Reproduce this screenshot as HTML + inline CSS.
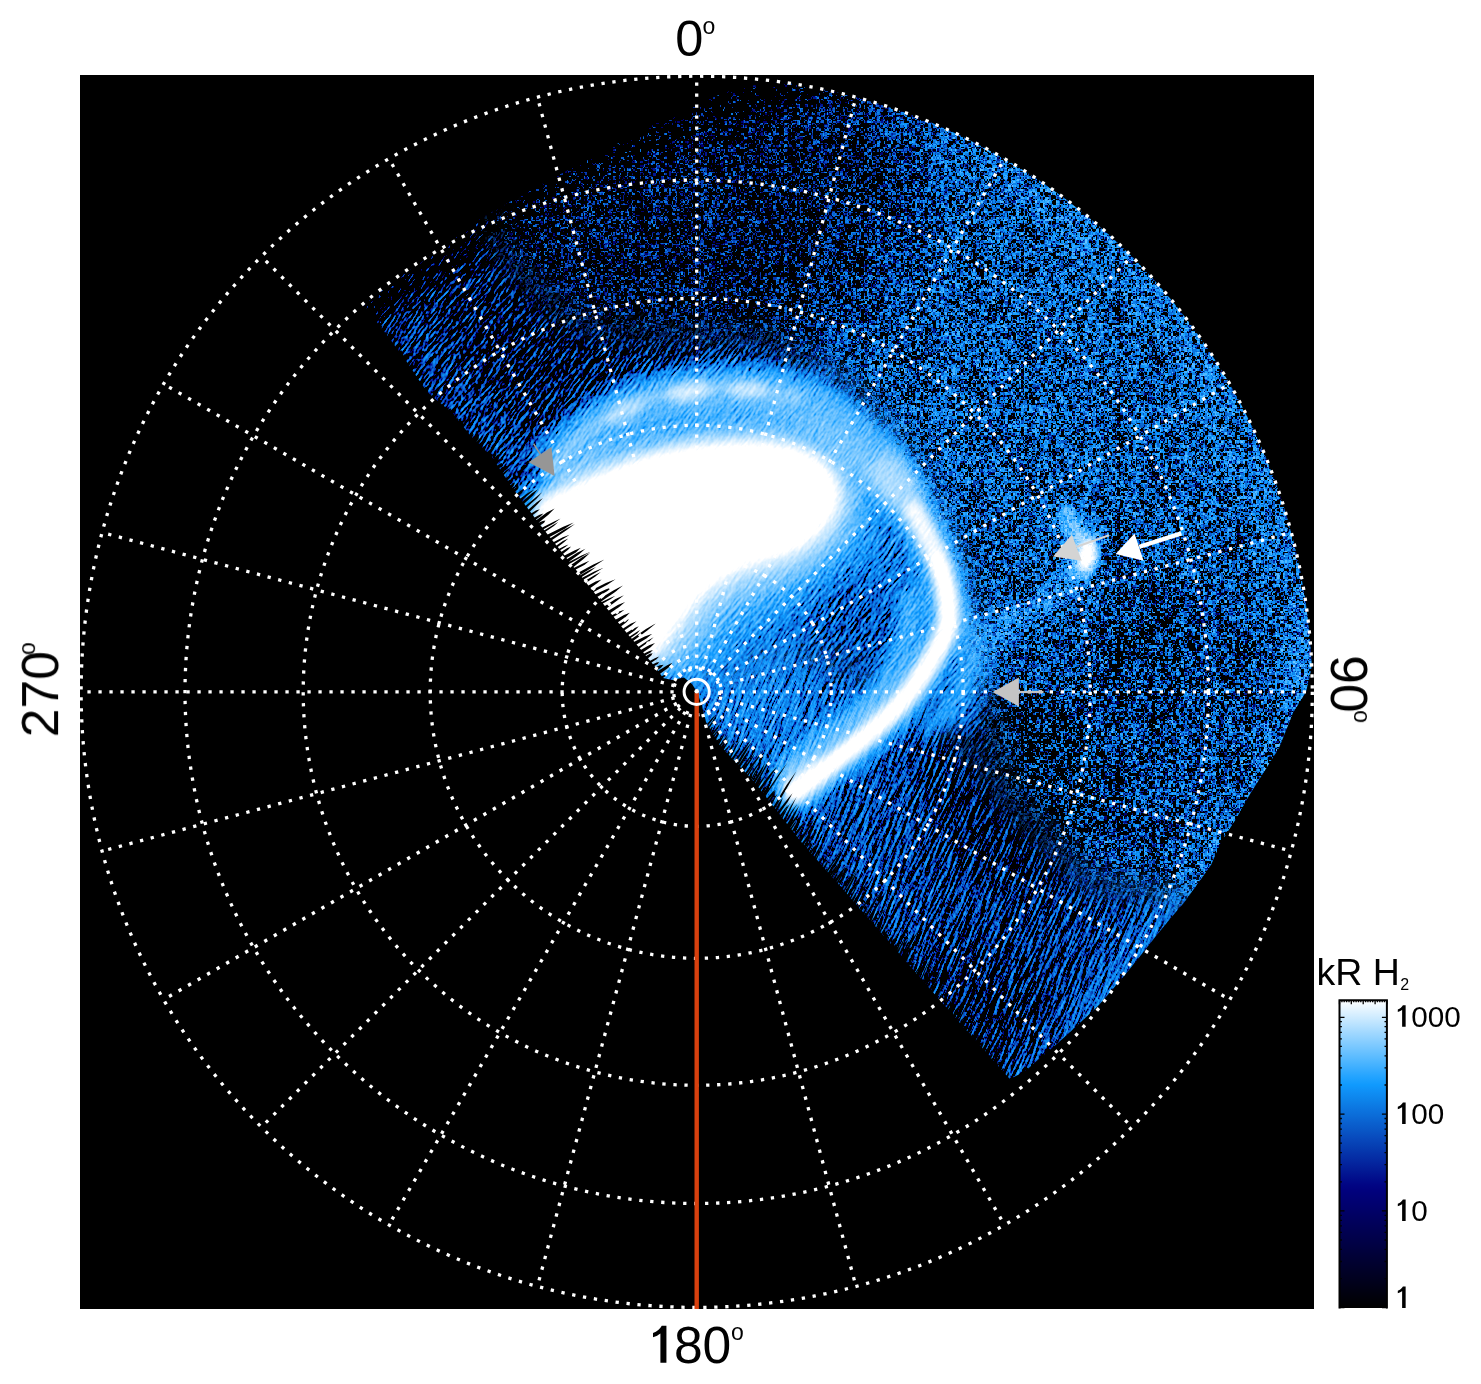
<!DOCTYPE html><html><head><meta charset="utf-8"><title>Polar projection</title>
<style>html,body{margin:0;padding:0;background:#fff}body{width:1481px;height:1384px;overflow:hidden;font-family:"Liberation Sans",sans-serif}svg{display:block}text{font-family:"Liberation Sans",sans-serif;fill:#000}</style></head><body>
<svg width="1481" height="1384" viewBox="0 0 1481 1384">
<defs>
<filter id="b4" filterUnits="userSpaceOnUse" x="200" y="0" width="1250" height="1250" color-interpolation-filters="sRGB"><feGaussianBlur stdDeviation="4"/></filter>
<filter id="b8" filterUnits="userSpaceOnUse" x="200" y="0" width="1250" height="1250" color-interpolation-filters="sRGB"><feGaussianBlur stdDeviation="8"/></filter>
<filter id="b14" filterUnits="userSpaceOnUse" x="200" y="0" width="1250" height="1250" color-interpolation-filters="sRGB"><feGaussianBlur stdDeviation="14"/></filter>
<filter id="b20" filterUnits="userSpaceOnUse" x="200" y="0" width="1250" height="1250" color-interpolation-filters="sRGB"><feGaussianBlur stdDeviation="20"/></filter>
<filter id="b40" filterUnits="userSpaceOnUse" x="200" y="0" width="1250" height="1250" color-interpolation-filters="sRGB"><feGaussianBlur stdDeviation="40"/></filter>
<filter id="tIso" filterUnits="userSpaceOnUse" x="250" y="0" width="1150" height="1200" color-interpolation-filters="sRGB"><feComponentTransfer><feFuncR type="table" tableValues="0.000 0.000 0.000 0.000 0.000 0.000 0.000 0.000 0.000 0.000 0.000 0.000 0.000 0.000 0.000 0.000 0.000 0.000 0.000 0.000 0.000 0.000 0.000 0.000 0.000 0.000 0.000 0.000 0.000 0.000 0.000 0.000 0.000 0.000 0.000 0.000 0.000 0.000 0.000 0.000 0.000 0.000 0.000 0.000 0.000 0.009 0.019 0.027 0.032 0.037 0.041 0.044 0.047 0.050 0.052 0.054 0.056 0.058 0.060 0.062 0.073 0.100 0.126 0.151 0.174 0.197 0.218 0.238 0.258 0.277 0.295 0.312 0.329 0.346 0.361 0.377 0.391 0.406 0.420 0.433 0.446 0.459 0.472 0.484 0.496 0.507 0.519 0.530 0.540 0.551 0.561 0.572 0.581 0.591 0.601 0.610 0.619 0.628 0.637 0.646 0.654 0.663 0.671 0.679 0.687 0.695 0.702 0.710 0.717 0.725 0.732 0.739 0.746 0.753 0.760 0.767 0.773 0.780 0.786 0.793 0.799 0.805 0.811 0.817 0.823 0.829 0.835 0.841 0.846 0.852 0.858 0.863 0.869 0.874 0.879 0.885 0.890 0.895 0.900 0.905 0.910 0.915 0.920 0.925 0.929 0.934 0.939 0.944 0.948 0.953 0.957 0.962 0.966 0.971 0.975 0.979 0.984 0.988 0.992 0.996 1.000 1.000 1.000 1.000 1.000 1.000 1.000 1.000 1.000 1.000 1.000 1.000 1.000 1.000 1.000 1.000 1.000 1.000 1.000 1.000 1.000 1.000 1.000 1.000 1.000 1.000 1.000 1.000 1.000 1.000 1.000 1.000 1.000 1.000 1.000 1.000 1.000 1.000 1.000 1.000 1.000 1.000 1.000 1.000 1.000 1.000 1.000 1.000 1.000 1.000 1.000 1.000 1.000 1.000 1.000 1.000 1.000 1.000 1.000 1.000 1.000 1.000 1.000 1.000 1.000 1.000 1.000 1.000 1.000 1.000 1.000 1.000 1.000 1.000 1.000 1.000 1.000 1.000 1.000 1.000 1.000 1.000 1.000 1.000 1.000 1.000 1.000 1.000 1.000 1.000 1.000 1.000 1.000 1.000 1.000 1.000"/><feFuncG type="table" tableValues="0.000 0.000 0.000 0.000 0.000 0.000 0.000 0.000 0.000 0.000 0.000 0.000 0.000 0.000 0.000 0.000 0.000 0.000 0.000 0.000 0.000 0.000 0.000 0.000 0.000 0.000 0.000 0.000 0.000 0.000 0.000 0.000 0.000 0.000 0.000 0.000 0.000 0.000 0.000 0.000 0.000 0.000 0.000 0.000 0.000 0.090 0.188 0.259 0.314 0.359 0.397 0.430 0.459 0.485 0.509 0.530 0.550 0.569 0.586 0.602 0.616 0.627 0.638 0.648 0.658 0.667 0.676 0.684 0.693 0.700 0.708 0.715 0.722 0.729 0.735 0.742 0.748 0.754 0.760 0.765 0.771 0.776 0.781 0.786 0.791 0.796 0.801 0.805 0.810 0.814 0.818 0.823 0.827 0.831 0.835 0.838 0.842 0.846 0.850 0.853 0.857 0.860 0.864 0.867 0.870 0.874 0.877 0.880 0.883 0.886 0.889 0.892 0.895 0.898 0.901 0.903 0.906 0.909 0.911 0.914 0.917 0.919 0.922 0.924 0.927 0.929 0.932 0.934 0.936 0.939 0.941 0.943 0.946 0.948 0.950 0.952 0.954 0.956 0.959 0.961 0.963 0.965 0.967 0.969 0.971 0.973 0.975 0.977 0.979 0.980 0.982 0.984 0.986 0.988 0.990 0.991 0.993 0.995 0.997 0.998 1.000 1.000 1.000 1.000 1.000 1.000 1.000 1.000 1.000 1.000 1.000 1.000 1.000 1.000 1.000 1.000 1.000 1.000 1.000 1.000 1.000 1.000 1.000 1.000 1.000 1.000 1.000 1.000 1.000 1.000 1.000 1.000 1.000 1.000 1.000 1.000 1.000 1.000 1.000 1.000 1.000 1.000 1.000 1.000 1.000 1.000 1.000 1.000 1.000 1.000 1.000 1.000 1.000 1.000 1.000 1.000 1.000 1.000 1.000 1.000 1.000 1.000 1.000 1.000 1.000 1.000 1.000 1.000 1.000 1.000 1.000 1.000 1.000 1.000 1.000 1.000 1.000 1.000 1.000 1.000 1.000 1.000 1.000 1.000 1.000 1.000 1.000 1.000 1.000 1.000 1.000 1.000 1.000 1.000 1.000 1.000"/><feFuncB type="table" tableValues="0.000 0.000 0.000 0.000 0.000 0.000 0.000 0.000 0.000 0.000 0.000 0.000 0.000 0.000 0.000 0.000 0.000 0.000 0.000 0.000 0.000 0.000 0.000 0.000 0.000 0.000 0.000 0.000 0.000 0.000 0.000 0.000 0.000 0.000 0.000 0.000 0.000 0.000 0.000 0.000 0.000 0.000 0.000 0.000 0.448 0.575 0.655 0.713 0.757 0.794 0.825 0.852 0.876 0.897 0.916 0.934 0.950 0.965 0.979 0.992 1.000 1.000 1.000 1.000 1.000 1.000 1.000 1.000 1.000 1.000 1.000 1.000 1.000 1.000 1.000 1.000 1.000 1.000 1.000 1.000 1.000 1.000 1.000 1.000 1.000 1.000 1.000 1.000 1.000 1.000 1.000 1.000 1.000 1.000 1.000 1.000 1.000 1.000 1.000 1.000 1.000 1.000 1.000 1.000 1.000 1.000 1.000 1.000 1.000 1.000 1.000 1.000 1.000 1.000 1.000 1.000 1.000 1.000 1.000 1.000 1.000 1.000 1.000 1.000 1.000 1.000 1.000 1.000 1.000 1.000 1.000 1.000 1.000 1.000 1.000 1.000 1.000 1.000 1.000 1.000 1.000 1.000 1.000 1.000 1.000 1.000 1.000 1.000 1.000 1.000 1.000 1.000 1.000 1.000 1.000 1.000 1.000 1.000 1.000 1.000 1.000 1.000 1.000 1.000 1.000 1.000 1.000 1.000 1.000 1.000 1.000 1.000 1.000 1.000 1.000 1.000 1.000 1.000 1.000 1.000 1.000 1.000 1.000 1.000 1.000 1.000 1.000 1.000 1.000 1.000 1.000 1.000 1.000 1.000 1.000 1.000 1.000 1.000 1.000 1.000 1.000 1.000 1.000 1.000 1.000 1.000 1.000 1.000 1.000 1.000 1.000 1.000 1.000 1.000 1.000 1.000 1.000 1.000 1.000 1.000 1.000 1.000 1.000 1.000 1.000 1.000 1.000 1.000 1.000 1.000 1.000 1.000 1.000 1.000 1.000 1.000 1.000 1.000 1.000 1.000 1.000 1.000 1.000 1.000 1.000 1.000 1.000 1.000 1.000 1.000 1.000 1.000 1.000 1.000 1.000 1.000"/><feFuncA type="linear" slope="0" intercept="1"/></feComponentTransfer></filter>
<path id="nzT" d="M0 0h1v1h-1zM2 0h7v1h-7zM10 0h1v1h-1zM12 0h1v1h-1zM14 0h1v1h-1zM16 0h1v1h-1zM18 0h2v1h-2zM22 0h1v1h-1zM26 0h3v1h-3zM30 0h2v1h-2zM35 0h1v1h-1zM38 0h1v1h-1zM42 0h1v1h-1zM44 0h2v1h-2zM47 0h1v1h-1zM0 1h3v1h-3zM4 1h4v1h-4zM9 1h1v1h-1zM12 1h2v1h-2zM15 1h2v1h-2zM23 1h2v1h-2zM26 1h2v1h-2zM29 1h1v1h-1zM35 1h2v1h-2zM38 1h1v1h-1zM42 1h1v1h-1zM44 1h1v1h-1zM46 1h2v1h-2zM2 2h1v1h-1zM4 2h1v1h-1zM7 2h1v1h-1zM10 2h1v1h-1zM14 2h2v1h-2zM18 2h1v1h-1zM23 2h5v1h-5zM32 2h2v1h-2zM37 2h1v1h-1zM39 2h1v1h-1zM41 2h1v1h-1zM45 2h3v1h-3zM0 3h3v1h-3zM5 3h2v1h-2zM9 3h2v1h-2zM12 3h1v1h-1zM16 3h2v1h-2zM20 3h4v1h-4zM26 3h1v1h-1zM29 3h1v1h-1zM33 3h3v1h-3zM37 3h1v1h-1zM39 3h2v1h-2zM42 3h1v1h-1zM46 3h2v1h-2zM4 4h2v1h-2zM12 4h2v1h-2zM18 4h1v1h-1zM20 4h3v1h-3zM24 4h1v1h-1zM27 4h4v1h-4zM32 4h1v1h-1zM38 4h1v1h-1zM41 4h2v1h-2zM44 4h1v1h-1zM46 4h1v1h-1zM0 5h1v1h-1zM3 5h1v1h-1zM6 5h2v1h-2zM10 5h1v1h-1zM12 5h1v1h-1zM18 5h1v1h-1zM25 5h1v1h-1zM27 5h5v1h-5zM33 5h1v1h-1zM36 5h3v1h-3zM43 5h2v1h-2zM5 6h5v1h-5zM11 6h1v1h-1zM16 6h4v1h-4zM21 6h1v1h-1zM24 6h4v1h-4zM29 6h2v1h-2zM32 6h1v1h-1zM34 6h2v1h-2zM37 6h2v1h-2zM42 6h1v1h-1zM44 6h1v1h-1zM47 6h1v1h-1zM0 7h1v1h-1zM8 7h1v1h-1zM13 7h1v1h-1zM16 7h2v1h-2zM19 7h1v1h-1zM21 7h1v1h-1zM24 7h2v1h-2zM33 7h4v1h-4zM38 7h2v1h-2zM43 7h2v1h-2zM47 7h1v1h-1zM0 8h2v1h-2zM3 8h2v1h-2zM6 8h1v1h-1zM8 8h2v1h-2zM12 8h1v1h-1zM18 8h1v1h-1zM20 8h1v1h-1zM22 8h5v1h-5zM31 8h1v1h-1zM33 8h1v1h-1zM36 8h7v1h-7zM44 8h1v1h-1zM46 8h2v1h-2zM0 9h2v1h-2zM3 9h1v1h-1zM5 9h1v1h-1zM7 9h1v1h-1zM9 9h1v1h-1zM11 9h1v1h-1zM16 9h3v1h-3zM25 9h4v1h-4zM30 9h2v1h-2zM33 9h1v1h-1zM35 9h1v1h-1zM37 9h1v1h-1zM39 9h2v1h-2zM43 9h1v1h-1zM46 9h1v1h-1zM0 10h1v1h-1zM4 10h1v1h-1zM6 10h2v1h-2zM9 10h1v1h-1zM12 10h3v1h-3zM19 10h5v1h-5zM25 10h1v1h-1zM27 10h1v1h-1zM29 10h1v1h-1zM31 10h3v1h-3zM35 10h1v1h-1zM37 10h1v1h-1zM45 10h3v1h-3zM0 11h2v1h-2zM3 11h1v1h-1zM9 11h4v1h-4zM14 11h4v1h-4zM19 11h1v1h-1zM21 11h2v1h-2zM25 11h3v1h-3zM31 11h2v1h-2zM35 11h1v1h-1zM38 11h1v1h-1zM41 11h2v1h-2zM0 12h1v1h-1zM3 12h1v1h-1zM5 12h1v1h-1zM7 12h1v1h-1zM9 12h1v1h-1zM11 12h2v1h-2zM14 12h1v1h-1zM17 12h7v1h-7zM26 12h3v1h-3zM32 12h1v1h-1zM34 12h1v1h-1zM37 12h2v1h-2zM40 12h5v1h-5zM46 12h1v1h-1zM1 13h1v1h-1zM6 13h1v1h-1zM9 13h1v1h-1zM11 13h1v1h-1zM13 13h4v1h-4zM18 13h1v1h-1zM20 13h4v1h-4zM25 13h3v1h-3zM29 13h1v1h-1zM31 13h1v1h-1zM33 13h1v1h-1zM35 13h1v1h-1zM38 13h1v1h-1zM40 13h1v1h-1zM43 13h1v1h-1zM45 13h1v1h-1zM0 14h1v1h-1zM4 14h2v1h-2zM12 14h1v1h-1zM16 14h1v1h-1zM18 14h1v1h-1zM21 14h4v1h-4zM27 14h3v1h-3zM31 14h3v1h-3zM35 14h2v1h-2zM38 14h3v1h-3zM43 14h1v1h-1zM45 14h1v1h-1zM47 14h1v1h-1zM0 15h1v1h-1zM5 15h1v1h-1zM7 15h1v1h-1zM11 15h1v1h-1zM13 15h1v1h-1zM19 15h1v1h-1zM21 15h2v1h-2zM24 15h1v1h-1zM27 15h2v1h-2zM30 15h2v1h-2zM34 15h1v1h-1zM36 15h1v1h-1zM38 15h1v1h-1zM40 15h1v1h-1zM42 15h4v1h-4zM5 16h1v1h-1zM7 16h6v1h-6zM14 16h1v1h-1zM17 16h1v1h-1zM20 16h1v1h-1zM22 16h3v1h-3zM26 16h1v1h-1zM28 16h1v1h-1zM30 16h1v1h-1zM33 16h1v1h-1zM36 16h1v1h-1zM38 16h1v1h-1zM41 16h3v1h-3zM45 16h1v1h-1zM47 16h1v1h-1zM0 17h2v1h-2zM5 17h1v1h-1zM7 17h5v1h-5zM16 17h2v1h-2zM20 17h7v1h-7zM29 17h1v1h-1zM31 17h1v1h-1zM33 17h1v1h-1zM37 17h2v1h-2zM42 17h1v1h-1zM45 17h2v1h-2zM4 18h1v1h-1zM6 18h4v1h-4zM11 18h3v1h-3zM16 18h2v1h-2zM19 18h1v1h-1zM21 18h1v1h-1zM23 18h1v1h-1zM25 18h5v1h-5zM31 18h1v1h-1zM35 18h2v1h-2zM38 18h1v1h-1zM41 18h1v1h-1zM43 18h1v1h-1zM45 18h1v1h-1zM47 18h1v1h-1zM3 19h1v1h-1zM6 19h1v1h-1zM8 19h3v1h-3zM12 19h2v1h-2zM16 19h6v1h-6zM24 19h1v1h-1zM26 19h1v1h-1zM28 19h3v1h-3zM32 19h1v1h-1zM34 19h5v1h-5zM40 19h4v1h-4zM45 19h2v1h-2zM4 20h4v1h-4zM9 20h1v1h-1zM12 20h1v1h-1zM14 20h3v1h-3zM18 20h1v1h-1zM20 20h2v1h-2zM23 20h2v1h-2zM27 20h1v1h-1zM31 20h1v1h-1zM33 20h1v1h-1zM36 20h1v1h-1zM38 20h1v1h-1zM40 20h1v1h-1zM44 20h4v1h-4zM0 21h1v1h-1zM3 21h1v1h-1zM6 21h5v1h-5zM14 21h1v1h-1zM16 21h2v1h-2zM22 21h4v1h-4zM27 21h3v1h-3zM32 21h3v1h-3zM39 21h1v1h-1zM41 21h2v1h-2zM45 21h1v1h-1zM2 22h1v1h-1zM5 22h2v1h-2zM10 22h2v1h-2zM13 22h2v1h-2zM16 22h1v1h-1zM19 22h1v1h-1zM24 22h1v1h-1zM27 22h2v1h-2zM30 22h3v1h-3zM36 22h1v1h-1zM40 22h1v1h-1zM44 22h1v1h-1zM46 22h2v1h-2zM6 23h2v1h-2zM9 23h2v1h-2zM12 23h2v1h-2zM15 23h3v1h-3zM20 23h1v1h-1zM23 23h1v1h-1zM25 23h4v1h-4zM31 23h1v1h-1zM36 23h3v1h-3zM40 23h1v1h-1zM45 23h1v1h-1zM1 24h4v1h-4zM8 24h5v1h-5zM16 24h6v1h-6zM24 24h1v1h-1zM26 24h1v1h-1zM30 24h1v1h-1zM33 24h1v1h-1zM36 24h1v1h-1zM39 24h1v1h-1zM41 24h1v1h-1zM44 24h2v1h-2zM4 25h3v1h-3zM8 25h1v1h-1zM11 25h4v1h-4zM16 25h1v1h-1zM19 25h3v1h-3zM24 25h3v1h-3zM28 25h1v1h-1zM30 25h1v1h-1zM32 25h1v1h-1zM34 25h2v1h-2zM38 25h5v1h-5zM46 25h1v1h-1zM0 26h3v1h-3zM4 26h3v1h-3zM8 26h2v1h-2zM11 26h2v1h-2zM16 26h1v1h-1zM19 26h2v1h-2zM22 26h1v1h-1zM24 26h1v1h-1zM26 26h6v1h-6zM35 26h1v1h-1zM38 26h3v1h-3zM44 26h1v1h-1zM0 27h1v1h-1zM3 27h1v1h-1zM5 27h1v1h-1zM8 27h2v1h-2zM12 27h1v1h-1zM14 27h5v1h-5zM27 27h3v1h-3zM31 27h1v1h-1zM33 27h2v1h-2zM36 27h2v1h-2zM39 27h1v1h-1zM42 27h1v1h-1zM47 27h1v1h-1zM4 28h1v1h-1zM6 28h1v1h-1zM9 28h2v1h-2zM13 28h1v1h-1zM18 28h2v1h-2zM27 28h4v1h-4zM32 28h1v1h-1zM35 28h4v1h-4zM41 28h4v1h-4zM47 28h1v1h-1zM1 29h2v1h-2zM9 29h1v1h-1zM11 29h1v1h-1zM15 29h3v1h-3zM19 29h1v1h-1zM22 29h1v1h-1zM26 29h7v1h-7zM34 29h2v1h-2zM38 29h1v1h-1zM43 29h4v1h-4zM0 30h1v1h-1zM4 30h1v1h-1zM7 30h7v1h-7zM17 30h1v1h-1zM19 30h1v1h-1zM23 30h8v1h-8zM32 30h2v1h-2zM35 30h1v1h-1zM37 30h1v1h-1zM39 30h3v1h-3zM45 30h1v1h-1zM0 31h2v1h-2zM3 31h3v1h-3zM7 31h1v1h-1zM10 31h1v1h-1zM12 31h1v1h-1zM15 31h4v1h-4zM20 31h3v1h-3zM25 31h1v1h-1zM27 31h3v1h-3zM32 31h1v1h-1zM35 31h2v1h-2zM38 31h4v1h-4zM44 31h1v1h-1zM46 31h2v1h-2zM0 32h3v1h-3zM4 32h1v1h-1zM6 32h2v1h-2zM11 32h2v1h-2zM19 32h1v1h-1zM28 32h2v1h-2zM32 32h1v1h-1zM35 32h2v1h-2zM38 32h1v1h-1zM42 32h2v1h-2zM45 32h3v1h-3zM1 33h1v1h-1zM6 33h1v1h-1zM8 33h2v1h-2zM13 33h1v1h-1zM16 33h2v1h-2zM20 33h1v1h-1zM22 33h1v1h-1zM24 33h2v1h-2zM28 33h2v1h-2zM31 33h3v1h-3zM40 33h1v1h-1zM42 33h1v1h-1zM44 33h1v1h-1zM47 33h1v1h-1zM0 34h1v1h-1zM4 34h1v1h-1zM6 34h1v1h-1zM9 34h2v1h-2zM14 34h1v1h-1zM18 34h3v1h-3zM23 34h1v1h-1zM25 34h1v1h-1zM27 34h1v1h-1zM29 34h2v1h-2zM34 34h1v1h-1zM38 34h1v1h-1zM40 34h1v1h-1zM44 34h1v1h-1zM0 35h5v1h-5zM6 35h2v1h-2zM12 35h1v1h-1zM14 35h1v1h-1zM18 35h1v1h-1zM20 35h1v1h-1zM24 35h1v1h-1zM27 35h5v1h-5zM34 35h1v1h-1zM39 35h1v1h-1zM41 35h1v1h-1zM44 35h2v1h-2zM47 35h1v1h-1zM1 36h2v1h-2zM7 36h1v1h-1zM9 36h3v1h-3zM13 36h1v1h-1zM17 36h1v1h-1zM22 36h1v1h-1zM24 36h1v1h-1zM26 36h1v1h-1zM28 36h5v1h-5zM34 36h1v1h-1zM37 36h4v1h-4zM43 36h1v1h-1zM45 36h1v1h-1zM1 37h3v1h-3zM6 37h1v1h-1zM12 37h1v1h-1zM19 37h1v1h-1zM23 37h1v1h-1zM25 37h2v1h-2zM30 37h4v1h-4zM36 37h2v1h-2zM42 37h1v1h-1zM44 37h1v1h-1zM47 37h1v1h-1zM1 38h1v1h-1zM4 38h1v1h-1zM7 38h1v1h-1zM9 38h1v1h-1zM11 38h1v1h-1zM13 38h1v1h-1zM21 38h2v1h-2zM25 38h1v1h-1zM28 38h1v1h-1zM31 38h3v1h-3zM35 38h2v1h-2zM38 38h1v1h-1zM40 38h1v1h-1zM43 38h3v1h-3zM0 39h1v1h-1zM2 39h1v1h-1zM5 39h1v1h-1zM9 39h2v1h-2zM14 39h1v1h-1zM17 39h1v1h-1zM20 39h3v1h-3zM24 39h1v1h-1zM26 39h1v1h-1zM28 39h2v1h-2zM32 39h1v1h-1zM35 39h5v1h-5zM42 39h3v1h-3zM46 39h1v1h-1zM3 40h1v1h-1zM5 40h1v1h-1zM7 40h1v1h-1zM11 40h3v1h-3zM15 40h1v1h-1zM17 40h1v1h-1zM21 40h3v1h-3zM25 40h2v1h-2zM30 40h1v1h-1zM34 40h3v1h-3zM38 40h2v1h-2zM0 41h1v1h-1zM2 41h3v1h-3zM6 41h4v1h-4zM12 41h1v1h-1zM16 41h2v1h-2zM19 41h3v1h-3zM23 41h1v1h-1zM27 41h2v1h-2zM30 41h1v1h-1zM35 41h2v1h-2zM39 41h1v1h-1zM41 41h1v1h-1zM44 41h4v1h-4zM0 42h1v1h-1zM3 42h1v1h-1zM8 42h1v1h-1zM12 42h3v1h-3zM19 42h1v1h-1zM21 42h2v1h-2zM24 42h2v1h-2zM28 42h5v1h-5zM36 42h2v1h-2zM39 42h1v1h-1zM42 42h4v1h-4zM47 42h1v1h-1zM0 43h2v1h-2zM3 43h8v1h-8zM12 43h4v1h-4zM18 43h3v1h-3zM22 43h1v1h-1zM26 43h3v1h-3zM30 43h2v1h-2zM34 43h3v1h-3zM41 43h1v1h-1zM44 43h2v1h-2zM47 43h1v1h-1zM1 44h1v1h-1zM3 44h1v1h-1zM5 44h2v1h-2zM8 44h2v1h-2zM12 44h2v1h-2zM20 44h2v1h-2zM24 44h5v1h-5zM30 44h1v1h-1zM33 44h5v1h-5zM41 44h1v1h-1zM43 44h2v1h-2zM46 44h1v1h-1zM0 45h3v1h-3zM4 45h3v1h-3zM9 45h1v1h-1zM11 45h1v1h-1zM13 45h1v1h-1zM15 45h4v1h-4zM22 45h1v1h-1zM25 45h1v1h-1zM28 45h7v1h-7zM36 45h1v1h-1zM38 45h1v1h-1zM41 45h1v1h-1zM43 45h1v1h-1zM45 45h1v1h-1zM47 45h1v1h-1zM0 46h1v1h-1zM4 46h1v1h-1zM7 46h1v1h-1zM9 46h3v1h-3zM13 46h1v1h-1zM17 46h4v1h-4zM26 46h2v1h-2zM30 46h2v1h-2zM33 46h5v1h-5zM41 46h1v1h-1zM43 46h5v1h-5zM0 47h2v1h-2zM6 47h1v1h-1zM9 47h1v1h-1zM12 47h3v1h-3zM18 47h1v1h-1zM31 47h2v1h-2zM37 47h1v1h-1zM39 47h1v1h-1zM43 47h2v1h-2z"/>
<pattern id="nz0" patternUnits="userSpaceOnUse" x="0" y="0" width="44" height="44"><g transform="scale(1.33333333)" shape-rendering="crispEdges"><rect x="0" y="0" width="33" height="33" fill="#000"/><use href="#nzT" fill="#fff"/></g></pattern>
<pattern id="nz1" patternUnits="userSpaceOnUse" x="4" y="12" width="48" height="48"><g transform="scale(1.33333333)" shape-rendering="crispEdges"><rect x="0" y="0" width="36" height="36" fill="#000"/><use href="#nzT" fill="#fff" transform="translate(48 0) scale(-1 1)"/></g></pattern>
<pattern id="nz2" patternUnits="userSpaceOnUse" x="20" y="8" width="52" height="52"><g transform="scale(1.33333333)" shape-rendering="crispEdges"><rect x="0" y="0" width="39" height="39" fill="#000"/><use href="#nzT" fill="#fff" transform="translate(0 48) scale(1 -1)"/></g></pattern>
<pattern id="nz3" patternUnits="userSpaceOnUse" x="12" y="28" width="56" height="56"><g transform="scale(1.33333333)" shape-rendering="crispEdges"><rect x="0" y="0" width="42" height="42" fill="#000"/><use href="#nzT" fill="#fff" transform="translate(48 48) scale(-1 -1)"/></g></pattern>
<pattern id="nz4" patternUnits="userSpaceOnUse" x="32" y="16" width="120" height="120"><g transform="scale(2.66666667)" shape-rendering="crispEdges"><rect x="0" y="0" width="45" height="45" fill="#000"/><use href="#nzT" fill="#fff"/></g></pattern>
<pattern id="nz5" patternUnits="userSpaceOnUse" x="8" y="40" width="128" height="128"><g transform="scale(2.66666667)" shape-rendering="crispEdges"><rect x="0" y="0" width="48" height="48" fill="#000"/><use href="#nzT" fill="#fff" transform="translate(48 0) scale(-1 1)"/></g></pattern>
<filter id="nS1" filterUnits="userSpaceOnUse" x="250" y="0" width="1150" height="1200" color-interpolation-filters="sRGB"><feTurbulence type="fractalNoise" baseFrequency="0.4" numOctaves="1" seed="5" result="t"/><feColorMatrix in="t" type="matrix" values="2.4 0 0 0 -0.7  2.4 0 0 0 -0.7  2.4 0 0 0 -0.7  0 0 0 0 1" result="n"/><feOffset in="n" dx="1" dy="-1" result="o0"/><feComposite in="n" in2="o0" operator="arithmetic" k1="0" k2="0.5" k3="0.5" k4="0" result="a0"/><feOffset in="a0" dx="1" dy="-2" result="o1"/><feComposite in="a0" in2="o1" operator="arithmetic" k1="0" k2="0.5" k3="0.5" k4="0" result="a1"/><feOffset in="a1" dx="3" dy="-4" result="o2"/><feComposite in="a1" in2="o2" operator="arithmetic" k1="0" k2="0.5" k3="0.5" k4="0" result="a2"/><feComposite in="SourceGraphic" in2="a2" operator="arithmetic" k1="0" k2="1.500" k3="0.500" k4="-0.350" result="u"/><feComponentTransfer in="u"><feFuncR type="table" tableValues="0.000 0.000 0.000 0.002 0.009 0.015 0.019 0.023 0.027 0.030 0.032 0.035 0.037 0.039 0.041 0.043 0.044 0.046 0.047 0.049 0.050 0.051 0.053 0.054 0.055 0.056 0.057 0.058 0.059 0.060 0.060 0.061 0.062 0.066 0.081 0.095 0.108 0.121 0.134 0.147 0.159 0.171 0.182 0.194 0.205 0.216 0.226 0.237 0.247 0.257 0.266 0.276 0.285 0.294 0.303 0.312 0.321 0.329 0.338 0.346 0.354 0.362 0.370 0.378 0.385 0.393 0.400 0.407 0.414 0.422 0.428 0.435 0.442 0.449 0.455 0.462 0.468 0.474 0.481 0.487 0.493 0.499 0.505 0.510 0.516 0.522 0.528 0.533 0.539 0.544 0.549 0.555 0.560 0.565 0.570 0.576 0.581 0.586 0.591 0.595 0.600 0.605 0.610 0.614 0.619 0.624 0.628 0.633 0.637 0.642 0.646 0.651 0.655 0.659 0.663 0.668 0.672 0.676 0.680 0.684 0.688 0.692 0.696 0.700 0.704 0.708 0.712 0.715 0.719 0.723 0.727 0.730 0.734 0.738 0.741 0.745 0.748 0.752 0.755 0.759 0.762 0.766 0.769 0.773 0.776 0.779 0.783 0.786 0.789 0.792 0.796 0.799 0.802 0.805 0.808 0.811 0.814 0.818 0.821 0.824 0.827 0.830 0.833 0.836 0.839 0.841 0.844 0.847 0.850 0.853 0.856 0.859 0.861 0.864 0.867 0.870 0.873 0.875 0.878 0.881 0.883 0.886 0.889 0.891 0.894 0.897 0.899 0.902 0.904 0.907 0.909 0.912 0.914 0.917 0.919 0.922 0.924 0.927 0.929 0.932 0.934 0.937 0.939 0.941 0.944 0.946 0.948 0.951 0.953 0.955 0.958 0.960 0.962 0.964 0.967 0.969 0.971 0.973 0.976 0.978 0.980 0.982 0.984 0.987 0.989 0.991 0.993 0.995 0.997 0.999 1.000 1.000 1.000 1.000 1.000 1.000 1.000 1.000 1.000 1.000 1.000 1.000 1.000 1.000 1.000 1.000 1.000 1.000 1.000 1.000 1.000 1.000 1.000 1.000 1.000 1.000"/><feFuncG type="table" tableValues="0.000 0.000 0.000 0.015 0.087 0.142 0.188 0.226 0.260 0.289 0.316 0.339 0.361 0.381 0.400 0.417 0.433 0.448 0.462 0.476 0.489 0.501 0.512 0.523 0.534 0.544 0.554 0.563 0.573 0.581 0.590 0.598 0.606 0.613 0.619 0.625 0.631 0.636 0.641 0.647 0.652 0.657 0.661 0.666 0.671 0.675 0.679 0.684 0.688 0.692 0.696 0.700 0.704 0.708 0.711 0.715 0.719 0.722 0.726 0.729 0.732 0.736 0.739 0.742 0.745 0.748 0.752 0.755 0.757 0.760 0.763 0.766 0.769 0.772 0.774 0.777 0.780 0.782 0.785 0.787 0.790 0.792 0.795 0.797 0.800 0.802 0.804 0.807 0.809 0.811 0.813 0.816 0.818 0.820 0.822 0.824 0.826 0.828 0.830 0.832 0.834 0.836 0.838 0.840 0.842 0.844 0.846 0.848 0.850 0.852 0.853 0.855 0.857 0.859 0.861 0.862 0.864 0.866 0.867 0.869 0.871 0.872 0.874 0.876 0.877 0.879 0.881 0.882 0.884 0.885 0.887 0.888 0.890 0.891 0.893 0.894 0.896 0.897 0.899 0.900 0.902 0.903 0.904 0.906 0.907 0.909 0.910 0.911 0.913 0.914 0.915 0.917 0.918 0.919 0.921 0.922 0.923 0.924 0.926 0.927 0.928 0.929 0.931 0.932 0.933 0.934 0.936 0.937 0.938 0.939 0.940 0.941 0.943 0.944 0.945 0.946 0.947 0.948 0.949 0.951 0.952 0.953 0.954 0.955 0.956 0.957 0.958 0.959 0.960 0.961 0.962 0.964 0.965 0.966 0.967 0.968 0.969 0.970 0.971 0.972 0.973 0.974 0.975 0.976 0.977 0.978 0.979 0.980 0.981 0.981 0.982 0.983 0.984 0.985 0.986 0.987 0.988 0.989 0.990 0.991 0.992 0.993 0.994 0.994 0.995 0.996 0.997 0.998 0.999 1.000 1.000 1.000 1.000 1.000 1.000 1.000 1.000 1.000 1.000 1.000 1.000 1.000 1.000 1.000 1.000 1.000 1.000 1.000 1.000 1.000 1.000 1.000 1.000 1.000 1.000 1.000"/><feFuncB type="table" tableValues="0.000 0.316 0.440 0.514 0.573 0.618 0.655 0.686 0.713 0.737 0.759 0.778 0.796 0.812 0.827 0.841 0.854 0.867 0.878 0.889 0.900 0.910 0.919 0.928 0.937 0.945 0.953 0.961 0.968 0.975 0.982 0.989 0.995 1.000 1.000 1.000 1.000 1.000 1.000 1.000 1.000 1.000 1.000 1.000 1.000 1.000 1.000 1.000 1.000 1.000 1.000 1.000 1.000 1.000 1.000 1.000 1.000 1.000 1.000 1.000 1.000 1.000 1.000 1.000 1.000 1.000 1.000 1.000 1.000 1.000 1.000 1.000 1.000 1.000 1.000 1.000 1.000 1.000 1.000 1.000 1.000 1.000 1.000 1.000 1.000 1.000 1.000 1.000 1.000 1.000 1.000 1.000 1.000 1.000 1.000 1.000 1.000 1.000 1.000 1.000 1.000 1.000 1.000 1.000 1.000 1.000 1.000 1.000 1.000 1.000 1.000 1.000 1.000 1.000 1.000 1.000 1.000 1.000 1.000 1.000 1.000 1.000 1.000 1.000 1.000 1.000 1.000 1.000 1.000 1.000 1.000 1.000 1.000 1.000 1.000 1.000 1.000 1.000 1.000 1.000 1.000 1.000 1.000 1.000 1.000 1.000 1.000 1.000 1.000 1.000 1.000 1.000 1.000 1.000 1.000 1.000 1.000 1.000 1.000 1.000 1.000 1.000 1.000 1.000 1.000 1.000 1.000 1.000 1.000 1.000 1.000 1.000 1.000 1.000 1.000 1.000 1.000 1.000 1.000 1.000 1.000 1.000 1.000 1.000 1.000 1.000 1.000 1.000 1.000 1.000 1.000 1.000 1.000 1.000 1.000 1.000 1.000 1.000 1.000 1.000 1.000 1.000 1.000 1.000 1.000 1.000 1.000 1.000 1.000 1.000 1.000 1.000 1.000 1.000 1.000 1.000 1.000 1.000 1.000 1.000 1.000 1.000 1.000 1.000 1.000 1.000 1.000 1.000 1.000 1.000 1.000 1.000 1.000 1.000 1.000 1.000 1.000 1.000 1.000 1.000 1.000 1.000 1.000 1.000 1.000 1.000 1.000 1.000 1.000 1.000 1.000 1.000 1.000 1.000 1.000 1.000"/><feFuncA type="linear" slope="0" intercept="1"/></feComponentTransfer></filter>
<filter id="nS2" filterUnits="userSpaceOnUse" x="250" y="0" width="1150" height="1200" color-interpolation-filters="sRGB"><feTurbulence type="fractalNoise" baseFrequency="0.36" numOctaves="2" seed="23" result="t"/><feColorMatrix in="t" type="matrix" values="2.4 0 0 0 -0.7  2.4 0 0 0 -0.7  2.4 0 0 0 -0.7  0 0 0 0 1" result="n"/><feOffset in="n" dx="0" dy="-1" result="o0"/><feComposite in="n" in2="o0" operator="arithmetic" k1="0" k2="0.5" k3="0.5" k4="0" result="a0"/><feOffset in="a0" dx="1" dy="-2" result="o1"/><feComposite in="a0" in2="o1" operator="arithmetic" k1="0" k2="0.5" k3="0.5" k4="0" result="a1"/><feOffset in="a1" dx="2" dy="-4" result="o2"/><feComposite in="a1" in2="o2" operator="arithmetic" k1="0" k2="0.5" k3="0.5" k4="0" result="a2"/><feOffset in="a2" dx="3" dy="-7" result="o3"/><feComposite in="a2" in2="o3" operator="arithmetic" k1="0" k2="0.5" k3="0.5" k4="0" result="a3"/><feComposite in="SourceGraphic" in2="a3" operator="arithmetic" k1="0" k2="1.500" k3="0.660" k4="-0.430" result="u"/><feComponentTransfer in="u"><feFuncR type="table" tableValues="0.000 0.000 0.000 0.002 0.009 0.015 0.019 0.023 0.027 0.030 0.032 0.035 0.037 0.039 0.041 0.043 0.044 0.046 0.047 0.049 0.050 0.051 0.053 0.054 0.055 0.056 0.057 0.058 0.059 0.060 0.060 0.061 0.062 0.066 0.081 0.095 0.108 0.121 0.134 0.147 0.159 0.171 0.182 0.194 0.205 0.216 0.226 0.237 0.247 0.257 0.266 0.276 0.285 0.294 0.303 0.312 0.321 0.329 0.338 0.346 0.354 0.362 0.370 0.378 0.385 0.393 0.400 0.407 0.414 0.422 0.428 0.435 0.442 0.449 0.455 0.462 0.468 0.474 0.481 0.487 0.493 0.499 0.505 0.510 0.516 0.522 0.528 0.533 0.539 0.544 0.549 0.555 0.560 0.565 0.570 0.576 0.581 0.586 0.591 0.595 0.600 0.605 0.610 0.614 0.619 0.624 0.628 0.633 0.637 0.642 0.646 0.651 0.655 0.659 0.663 0.668 0.672 0.676 0.680 0.684 0.688 0.692 0.696 0.700 0.704 0.708 0.712 0.715 0.719 0.723 0.727 0.730 0.734 0.738 0.741 0.745 0.748 0.752 0.755 0.759 0.762 0.766 0.769 0.773 0.776 0.779 0.783 0.786 0.789 0.792 0.796 0.799 0.802 0.805 0.808 0.811 0.814 0.818 0.821 0.824 0.827 0.830 0.833 0.836 0.839 0.841 0.844 0.847 0.850 0.853 0.856 0.859 0.861 0.864 0.867 0.870 0.873 0.875 0.878 0.881 0.883 0.886 0.889 0.891 0.894 0.897 0.899 0.902 0.904 0.907 0.909 0.912 0.914 0.917 0.919 0.922 0.924 0.927 0.929 0.932 0.934 0.937 0.939 0.941 0.944 0.946 0.948 0.951 0.953 0.955 0.958 0.960 0.962 0.964 0.967 0.969 0.971 0.973 0.976 0.978 0.980 0.982 0.984 0.987 0.989 0.991 0.993 0.995 0.997 0.999 1.000 1.000 1.000 1.000 1.000 1.000 1.000 1.000 1.000 1.000 1.000 1.000 1.000 1.000 1.000 1.000 1.000 1.000 1.000 1.000 1.000 1.000 1.000 1.000 1.000 1.000"/><feFuncG type="table" tableValues="0.000 0.000 0.000 0.015 0.087 0.142 0.188 0.226 0.260 0.289 0.316 0.339 0.361 0.381 0.400 0.417 0.433 0.448 0.462 0.476 0.489 0.501 0.512 0.523 0.534 0.544 0.554 0.563 0.573 0.581 0.590 0.598 0.606 0.613 0.619 0.625 0.631 0.636 0.641 0.647 0.652 0.657 0.661 0.666 0.671 0.675 0.679 0.684 0.688 0.692 0.696 0.700 0.704 0.708 0.711 0.715 0.719 0.722 0.726 0.729 0.732 0.736 0.739 0.742 0.745 0.748 0.752 0.755 0.757 0.760 0.763 0.766 0.769 0.772 0.774 0.777 0.780 0.782 0.785 0.787 0.790 0.792 0.795 0.797 0.800 0.802 0.804 0.807 0.809 0.811 0.813 0.816 0.818 0.820 0.822 0.824 0.826 0.828 0.830 0.832 0.834 0.836 0.838 0.840 0.842 0.844 0.846 0.848 0.850 0.852 0.853 0.855 0.857 0.859 0.861 0.862 0.864 0.866 0.867 0.869 0.871 0.872 0.874 0.876 0.877 0.879 0.881 0.882 0.884 0.885 0.887 0.888 0.890 0.891 0.893 0.894 0.896 0.897 0.899 0.900 0.902 0.903 0.904 0.906 0.907 0.909 0.910 0.911 0.913 0.914 0.915 0.917 0.918 0.919 0.921 0.922 0.923 0.924 0.926 0.927 0.928 0.929 0.931 0.932 0.933 0.934 0.936 0.937 0.938 0.939 0.940 0.941 0.943 0.944 0.945 0.946 0.947 0.948 0.949 0.951 0.952 0.953 0.954 0.955 0.956 0.957 0.958 0.959 0.960 0.961 0.962 0.964 0.965 0.966 0.967 0.968 0.969 0.970 0.971 0.972 0.973 0.974 0.975 0.976 0.977 0.978 0.979 0.980 0.981 0.981 0.982 0.983 0.984 0.985 0.986 0.987 0.988 0.989 0.990 0.991 0.992 0.993 0.994 0.994 0.995 0.996 0.997 0.998 0.999 1.000 1.000 1.000 1.000 1.000 1.000 1.000 1.000 1.000 1.000 1.000 1.000 1.000 1.000 1.000 1.000 1.000 1.000 1.000 1.000 1.000 1.000 1.000 1.000 1.000 1.000 1.000"/><feFuncB type="table" tableValues="0.000 0.316 0.440 0.514 0.573 0.618 0.655 0.686 0.713 0.737 0.759 0.778 0.796 0.812 0.827 0.841 0.854 0.867 0.878 0.889 0.900 0.910 0.919 0.928 0.937 0.945 0.953 0.961 0.968 0.975 0.982 0.989 0.995 1.000 1.000 1.000 1.000 1.000 1.000 1.000 1.000 1.000 1.000 1.000 1.000 1.000 1.000 1.000 1.000 1.000 1.000 1.000 1.000 1.000 1.000 1.000 1.000 1.000 1.000 1.000 1.000 1.000 1.000 1.000 1.000 1.000 1.000 1.000 1.000 1.000 1.000 1.000 1.000 1.000 1.000 1.000 1.000 1.000 1.000 1.000 1.000 1.000 1.000 1.000 1.000 1.000 1.000 1.000 1.000 1.000 1.000 1.000 1.000 1.000 1.000 1.000 1.000 1.000 1.000 1.000 1.000 1.000 1.000 1.000 1.000 1.000 1.000 1.000 1.000 1.000 1.000 1.000 1.000 1.000 1.000 1.000 1.000 1.000 1.000 1.000 1.000 1.000 1.000 1.000 1.000 1.000 1.000 1.000 1.000 1.000 1.000 1.000 1.000 1.000 1.000 1.000 1.000 1.000 1.000 1.000 1.000 1.000 1.000 1.000 1.000 1.000 1.000 1.000 1.000 1.000 1.000 1.000 1.000 1.000 1.000 1.000 1.000 1.000 1.000 1.000 1.000 1.000 1.000 1.000 1.000 1.000 1.000 1.000 1.000 1.000 1.000 1.000 1.000 1.000 1.000 1.000 1.000 1.000 1.000 1.000 1.000 1.000 1.000 1.000 1.000 1.000 1.000 1.000 1.000 1.000 1.000 1.000 1.000 1.000 1.000 1.000 1.000 1.000 1.000 1.000 1.000 1.000 1.000 1.000 1.000 1.000 1.000 1.000 1.000 1.000 1.000 1.000 1.000 1.000 1.000 1.000 1.000 1.000 1.000 1.000 1.000 1.000 1.000 1.000 1.000 1.000 1.000 1.000 1.000 1.000 1.000 1.000 1.000 1.000 1.000 1.000 1.000 1.000 1.000 1.000 1.000 1.000 1.000 1.000 1.000 1.000 1.000 1.000 1.000 1.000 1.000 1.000 1.000 1.000 1.000 1.000"/><feFuncA type="linear" slope="0" intercept="1"/></feComponentTransfer></filter>
<clipPath id="cBox"><rect x="80" y="75" width="1234" height="1234"/></clipPath>
<clipPath id="cCirc"><circle cx="696.7" cy="691.8" r="615.6"/></clipPath>
<clipPath id="cData"><path d="M364.0,305.0 L369.7,312.5 L370.8,311.3 L372.4,311.0 L371.7,312.5 L370.8,314.0 L372.9,316.8 L373.1,316.6 L374.7,317.3 L374.7,318.7 L375.0,319.4 L380.3,326.4 L381.3,325.6 L382.3,325.6 L382.2,326.9 L381.5,328.0 L382.3,329.1 L383.2,328.3 L384.5,328.2 L384.1,329.4 L383.4,330.6 L385.5,333.3 L386.6,332.2 L388.2,332.2 L387.8,333.8 L387.0,335.3 L388.6,337.4 L390.2,336.4 L391.0,336.4 L391.4,338.0 L390.2,339.5 L392.8,342.9 L393.5,342.3 L394.8,342.6 L394.8,344.1 L394.5,345.2 L396.1,347.3 L397.3,347.0 L397.8,347.4 L398.6,348.7 L397.8,349.5 L399.0,351.1 L400.8,350.4 L401.7,350.6 L402.1,352.2 L400.8,353.4 L402.7,355.9 L404.2,354.6 L405.7,354.3 L405.2,356.0 L404.0,357.7 L404.9,358.9 L406.0,358.0 L407.5,357.8 L406.8,359.2 L406.0,360.5 L407.5,362.7 L408.6,362.4 L409.3,363.1 L410.0,364.5 L409.2,365.4 L410.8,367.7 L411.8,367.5 L412.5,368.2 L413.2,369.6 L412.5,370.4 L414.3,373.1 L414.7,373.0 L415.3,373.5 L415.5,374.3 L415.4,374.7 L417.2,377.4 L417.9,377.1 L418.7,377.5 L418.9,378.5 L418.4,379.2 L420.8,382.8 L421.3,382.1 L423.0,382.5 L422.6,384.0 L422.4,385.2 L424.3,388.0 L425.4,386.9 L426.9,387.0 L426.7,388.9 L425.9,390.6 L431.6,395.8 L432.9,394.6 L434.9,394.3 L434.3,395.8 L433.4,397.3 L448.1,409.5 L449.4,408.7 L450.9,408.6 L451.0,410.0 L450.1,411.2 L453.0,413.8 L453.1,413.8 L454.4,414.6 L454.7,415.7 L455.0,416.3 L456.7,418.4 L457.5,418.2 L458.0,418.7 L458.8,419.8 L458.3,420.4 L460.8,423.5 L461.9,422.3 L463.7,422.4 L463.4,424.3 L462.8,426.0 L466.4,430.5 L467.6,430.2 L468.1,430.6 L469.0,431.9 L468.2,432.8 L470.5,435.5 L471.8,434.3 L473.6,434.0 L473.1,435.6 L472.2,437.2 L474.3,439.3 L476.9,436.9 L478.9,436.1 L478.7,438.7 L476.6,441.6 L476.7,441.8 L480.3,437.7 L483.3,435.6 L481.8,439.3 L478.7,443.8 L479.4,444.5 L483.4,440.6 L486.9,438.8 L485.1,442.3 L481.6,446.6 L482.6,447.7 L483.6,446.6 L485.6,446.7 L485.5,448.5 L485.0,450.1 L487.1,452.1 L491.6,448.3 L495.0,446.5 L493.3,450.0 L489.2,454.3 L490.2,455.3 L491.4,454.6 L492.5,454.8 L492.8,456.1 L492.0,457.2 L493.3,459.1 L497.3,454.9 L501.1,453.0 L498.8,457.1 L495.1,461.9 L495.5,462.5 L498.4,459.8 L500.9,458.6 L499.4,461.3 L496.7,464.3 L497.5,465.5 L500.3,463.5 L502.1,463.0 L501.8,465.6 L499.3,468.2 L500.1,469.4 L502.3,466.9 L505.1,466.2 L503.7,469.1 L501.9,472.1 L502.7,473.3 L506.9,469.7 L510.2,467.9 L507.8,471.0 L503.8,475.0 L505.9,478.0 L508.9,475.7 L510.9,474.9 L510.0,477.5 L507.3,480.2 L507.8,480.9 L509.6,479.7 L511.3,479.6 L510.8,481.4 L509.3,483.2 L510.7,485.2 L512.9,483.1 L515.0,482.6 L514.2,485.1 L512.3,487.7 L513.4,489.3 L516.8,487.1 L518.8,486.3 L518.1,488.9 L515.1,491.6 L516.8,493.8 L520.9,490.4 L523.6,489.0 L522.4,492.4 L518.7,496.3 L520.4,498.6 L528.3,492.8 L534.4,489.5 L529.2,494.1 L521.6,500.2 L522.5,501.4 L531.6,493.6 L537.9,489.2 L533.0,495.4 L524.2,503.7 L525.7,505.7 L535.8,497.3 L542.1,492.2 L536.7,498.5 L526.9,507.3 L528.5,509.4 L536.7,502.2 L542.9,498.0 L537.9,503.8 L530.0,511.4 L531.5,513.3 L535.8,510.5 L539.9,509.2 L536.8,511.9 L532.8,515.1 L534.5,517.4 L539.6,514.7 L543.4,513.6 L540.7,516.3 L536.0,519.4 L536.6,520.1 L546.8,512.6 L554.6,508.5 L548.4,514.8 L538.6,522.8 L538.6,522.8 L542.7,520.9 L545.4,520.4 L544.1,522.8 L540.4,525.2 L542.2,527.5 L553.2,521.9 L560.6,518.6 L554.2,523.2 L543.5,529.2 L544.4,530.2 L553.0,525.0 L558.4,521.9 L553.9,526.1 L545.5,531.7 L547.7,534.4 L563.3,526.8 L573.7,522.4 L564.8,528.7 L549.6,536.9 L550.7,538.1 L564.6,529.3 L575.0,524.0 L565.7,530.7 L552.1,539.9 L553.8,542.1 L562.8,537.3 L569.7,534.7 L563.8,538.6 L555.1,543.7 L556.4,545.4 L562.9,541.0 L568.3,538.6 L564.0,542.3 L557.8,547.1 L559.2,548.8 L564.6,546.0 L568.5,544.5 L565.4,547.1 L560.2,550.2 L561.5,551.8 L566.9,548.2 L571.1,546.4 L568.1,549.7 L563.1,553.8 L564.6,555.6 L574.4,550.4 L580.8,547.8 L575.9,552.4 L566.5,558.1 L567.3,559.0 L577.6,552.4 L585.4,548.7 L579.1,554.3 L569.3,561.5 L569.4,561.7 L581.5,555.4 L590.5,551.7 L582.4,556.6 L570.6,563.2 L571.6,564.4 L582.0,557.2 L589.9,553.1 L583.5,559.1 L573.5,566.9 L574.2,567.7 L583.5,563.2 L589.4,560.8 L584.7,564.7 L575.7,569.6 L578.2,572.8 L593.4,564.4 L604.4,559.5 L594.7,566.1 L579.9,574.9 L580.2,575.3 L589.4,569.9 L596.0,566.9 L590.5,571.3 L581.7,577.1 L582.2,577.8 L594.3,571.4 L603.5,567.7 L595.3,572.7 L583.6,579.5 L584.9,581.1 L594.4,575.3 L600.8,572.0 L595.4,576.6 L586.2,582.7 L588.4,585.5 L595.6,581.4 L601.6,579.4 L597.1,583.3 L590.4,588.0 L592.0,589.9 L605.9,583.1 L615.5,579.2 L607.3,584.8 L593.7,592.1 L595.5,594.3 L605.6,589.4 L612.4,586.9 L607.1,591.3 L597.5,596.7 L599.3,599.0 L613.3,590.4 L623.0,585.5 L614.8,592.3 L601.2,601.4 L601.7,602.1 L610.0,598.0 L615.3,595.7 L610.9,599.1 L602.9,603.4 L604.9,606.0 L615.5,599.1 L623.9,595.2 L616.9,600.8 L606.7,608.2 L608.7,610.6 L617.8,605.1 L625.1,602.1 L619.2,606.9 L610.5,613.0 L612.2,615.1 L619.1,611.6 L624.5,609.8 L620.1,612.9 L613.6,616.8 L615.8,619.6 L624.0,615.0 L629.8,612.8 L625.6,617.1 L617.9,622.2 L619.5,624.1 L624.7,620.8 L629.1,619.3 L626.1,622.5 L621.2,626.2 L623.1,628.5 L630.6,623.8 L636.5,621.2 L631.8,625.2 L624.6,630.2 L626.6,632.7 L633.6,628.4 L638.8,626.3 L635.0,630.2 L628.5,634.9 L629.7,636.4 L636.2,632.3 L640.1,630.0 L637.1,633.4 L631.0,637.8 L631.8,638.8 L646.0,629.0 L656.4,623.0 L647.3,630.5 L633.4,640.8 L634.3,641.8 L644.7,636.5 L652.3,633.7 L646.4,638.5 L636.5,644.4 L638.5,646.8 L647.5,640.8 L653.6,637.3 L648.5,642.0 L639.7,648.3 L641.1,649.8 L649.0,645.3 L655.0,643.1 L650.6,647.2 L643.2,652.3 L644.1,653.4 L649.4,651.0 L652.9,649.9 L650.5,652.4 L645.5,655.2 L646.1,655.9 L649.8,653.8 L652.6,653.2 L651.3,655.6 L648.0,658.2 L650.1,660.8 L655.4,657.9 L659.2,656.6 L656.5,659.3 L651.5,662.5 L652.9,664.2 L656.6,662.6 L659.1,662.1 L657.8,664.0 L654.4,666.1 L655.5,667.4 L659.7,665.3 L663.6,664.7 L661.2,667.4 L657.5,670.1 L658.1,671.0 L666.8,665.6 L672.4,662.8 L668.3,667.7 L660.1,673.8 L661.8,676.3 L665.0,674.4 L667.5,673.7 L665.9,675.7 L663.0,678.0 L663.0,678.0 L672.0,680.0 L684.0,677.5 L692.0,684.0 L697.0,692.0 L702.0,706.0 L706.0,722.0 L707.1,723.9 L712.1,718.1 L715.7,714.7 L712.8,719.2 L708.0,725.3 L708.7,726.5 L713.3,719.7 L716.4,715.7 L714.0,720.9 L709.5,727.9 L710.2,729.0 L711.4,727.3 L713.0,726.7 L712.2,728.7 L711.2,730.7 L712.4,732.7 L717.1,726.9 L720.6,723.6 L717.8,728.3 L713.4,734.4 L713.7,734.9 L716.6,731.3 L719.2,729.2 L717.2,732.3 L714.5,736.3 L715.2,737.4 L718.4,732.2 L721.0,729.3 L719.2,733.6 L716.2,739.1 L716.9,740.3 L718.6,738.9 L719.3,738.5 L719.4,740.1 L717.8,741.9 L718.2,742.5 L722.0,736.7 L725.2,733.3 L722.8,738.0 L719.2,744.2 L719.6,744.9 L724.7,738.5 L727.8,734.7 L725.6,739.6 L720.8,746.3 L721.1,746.6 L725.2,740.4 L728.2,736.6 L726.0,741.2 L722.0,747.6 L722.6,748.2 L726.6,742.5 L728.9,739.0 L727.6,743.5 L723.8,749.6 L724.5,750.3 L727.8,746.9 L729.5,744.9 L728.5,747.7 L725.5,751.3 L727.2,753.2 L731.7,745.5 L736.0,740.9 L732.9,746.7 L728.7,754.7 L730.0,756.1 L735.7,745.9 L740.4,739.4 L736.5,746.8 L731.1,757.3 L731.9,758.2 L736.4,751.5 L739.8,747.5 L737.5,752.7 L733.4,759.7 L734.3,760.8 L744.4,747.4 L751.8,738.9 L745.4,748.4 L735.6,762.1 L736.6,763.2 L745.1,750.0 L751.7,741.8 L746.4,751.5 L738.4,765.1 L738.5,765.3 L744.5,756.1 L749.1,750.6 L745.9,757.6 L740.3,767.1 L741.1,768.0 L748.3,758.3 L753.9,752.2 L749.2,759.3 L742.4,769.4 L742.7,769.7 L750.2,759.5 L755.1,753.1 L751.2,760.5 L743.9,771.0 L745.4,772.6 L756.3,758.7 L763.4,750.0 L757.3,759.9 L746.8,774.0 L747.3,774.6 L751.1,768.6 L754.0,764.9 L752.0,769.5 L748.4,775.8 L749.1,776.5 L755.8,766.6 L761.2,760.3 L756.7,767.5 L750.2,777.7 L751.3,778.8 L755.0,771.5 L758.6,767.0 L755.9,772.4 L752.4,780.0 L753.4,781.1 L760.6,769.7 L765.2,762.7 L761.9,771.2 L755.1,783.0 L755.4,783.4 L765.5,765.7 L772.3,754.3 L766.3,766.7 L756.3,784.6 L757.3,785.8 L762.3,778.7 L766.3,774.5 L763.1,779.9 L758.4,787.3 L759.2,788.2 L769.6,774.6 L777.3,766.1 L770.9,776.2 L760.8,790.3 L761.7,791.5 L764.6,787.6 L767.1,785.5 L765.7,789.0 L763.2,793.4 L764.5,795.0 L778.1,775.1 L787.7,762.3 L778.9,776.1 L765.4,796.2 L767.0,798.3 L772.1,792.6 L775.2,789.4 L773.2,794.0 L768.4,800.1 L768.7,800.5 L773.1,793.9 L775.6,790.1 L774.2,795.3 L770.1,802.3 L771.0,803.4 L774.4,797.1 L777.8,793.4 L775.2,798.1 L772.0,804.7 L773.5,806.5 L786.6,785.0 L796.3,771.3 L787.8,786.6 L775.0,808.5 L775.5,809.2 L779.5,802.1 L782.8,798.0 L780.7,803.7 L777.1,811.2 L777.6,811.8 L786.6,800.3 L792.5,793.2 L787.8,801.8 L779.2,813.8 L780.1,815.0 L784.7,809.0 L787.7,805.6 L785.7,810.3 L781.4,816.7 L781.6,816.9 L786.2,808.4 L790.3,803.1 L786.9,809.4 L782.5,818.2 L783.7,819.7 L791.0,805.8 L796.5,796.9 L791.8,806.8 L784.8,821.1 L785.2,821.6 L792.0,810.8 L797.2,803.9 L792.7,811.7 L786.1,822.7 L787.2,824.1 L794.4,812.6 L799.3,805.4 L795.4,813.9 L788.5,825.8 L788.7,826.1 L795.2,817.4 L799.5,812.2 L796.3,818.9 L790.2,828.0 L790.4,828.2 L793.8,823.6 L796.3,821.0 L794.6,824.6 L791.4,829.5 L792.2,830.6 L797.2,821.9 L800.3,816.6 L798.0,823.0 L793.3,832.0 L794.5,833.5 L800.6,826.1 L804.6,821.8 L801.8,827.7 L796.1,835.6 L797.2,837.0 L800.8,832.6 L802.7,830.0 L801.5,833.4 L798.1,838.1 L799.4,839.8 L807.9,827.0 L814.4,819.0 L809.2,828.5 L801.1,841.8 L802.1,842.9 L808.5,834.0 L813.8,828.7 L809.8,835.5 L803.8,844.8 L804.1,845.2 L808.2,839.8 L811.0,836.5 L809.0,840.7 L805.1,846.4 L805.9,847.3 L812.7,836.9 L817.7,830.4 L813.3,837.7 L806.8,848.3 L807.7,849.3 L810.4,845.1 L812.8,842.9 L811.6,846.5 L809.2,851.0 L810.0,851.9 L813.5,847.3 L816.4,844.8 L814.6,848.6 L811.4,853.5 L811.9,854.1 L815.2,847.6 L818.0,843.7 L816.1,848.6 L813.0,855.4 L814.0,856.5 L818.0,849.5 L820.7,845.5 L819.2,851.0 L815.6,858.3 L815.8,858.5 L819.8,850.8 L822.9,846.0 L820.5,851.6 L816.7,859.5 L818.7,861.8 L821.7,857.9 L823.8,855.8 L822.7,859.1 L819.9,863.2 L821.5,865.0 L825.3,858.1 L828.7,853.9 L826.0,859.0 L822.5,866.1 L823.4,867.2 L826.3,862.6 L828.1,859.9 L827.3,863.7 L824.8,868.7 L826.4,870.6 L836.2,856.8 L843.0,847.9 L837.0,857.7 L827.5,871.8 L828.0,872.4 L837.1,858.8 L843.1,850.3 L838.4,860.2 L829.6,874.3 L829.7,874.3 L834.9,867.4 L838.3,863.4 L836.1,868.8 L831.2,876.1 L831.4,876.3 L836.4,867.9 L840.8,862.6 L837.3,868.8 L832.5,877.5 L833.3,878.4 L835.9,874.2 L837.7,871.9 L837.1,875.5 L834.8,880.1 L834.8,880.1 L841.4,871.0 L846.2,865.6 L842.7,872.5 L836.4,881.9 L836.7,882.3 L841.2,874.8 L844.6,870.3 L842.1,875.9 L837.9,883.7 L838.9,884.8 L844.0,876.5 L847.2,871.2 L844.6,877.3 L839.8,885.8 L841.6,887.8 L846.5,880.1 L850.9,875.5 L847.5,881.3 L842.8,889.3 L843.7,890.3 L851.6,877.6 L856.9,869.5 L852.3,878.4 L844.6,891.3 L845.3,892.1 L852.3,879.0 L857.5,870.8 L853.5,880.3 L846.8,893.8 L847.3,894.4 L856.3,881.8 L862.5,874.0 L857.7,883.3 L849.0,896.3 L850.1,897.5 L854.7,888.9 L857.5,883.5 L855.5,889.8 L851.1,898.7 L851.8,899.5 L854.4,895.1 L856.2,892.7 L855.6,896.5 L853.3,901.2 L853.5,901.4 L861.5,889.2 L867.4,881.6 L862.8,890.6 L855.1,903.3 L856.4,904.7 L861.3,896.5 L865.7,891.4 L862.1,897.4 L857.4,905.9 L858.1,906.7 L863.3,895.6 L867.6,888.5 L864.1,896.5 L859.1,907.9 L860.8,909.8 L867.1,899.6 L871.0,893.2 L867.9,900.5 L861.8,910.9 L863.2,912.4 L865.8,907.8 L867.7,905.2 L866.8,909.0 L864.5,914.0 L865.2,914.8 L874.7,899.9 L881.8,890.5 L875.9,901.2 L866.8,916.6 L867.9,917.8 L879.3,900.9 L886.8,890.1 L880.3,902.0 L869.1,919.2 L869.8,919.9 L873.2,912.5 L876.3,908.0 L874.3,913.7 L871.2,921.5 L871.2,921.6 L876.1,914.3 L879.6,909.8 L876.8,915.1 L872.1,922.6 L874.1,924.9 L881.1,913.2 L886.9,905.8 L881.8,914.1 L875.1,926.0 L876.1,927.2 L878.5,923.5 L880.3,921.4 L879.3,924.3 L877.1,928.2 L877.9,929.2 L879.6,926.1 L881.6,924.6 L880.7,927.4 L879.3,930.8 L879.6,931.1 L885.4,920.3 L889.7,913.4 L886.1,921.1 L880.5,932.2 L881.4,933.2 L885.4,926.2 L888.1,921.8 L886.1,927.0 L882.3,934.2 L883.6,935.7 L885.4,931.8 L887.9,929.8 L886.7,933.3 L885.3,937.6 L885.9,938.3 L887.2,935.7 L889.3,934.5 L888.1,936.8 L887.1,939.7 L888.2,941.0 L890.6,937.6 L892.8,936.0 L891.9,939.1 L889.9,942.9 L890.7,943.8 L893.1,939.6 L896.0,937.3 L894.4,941.0 L892.2,945.6 L893.5,947.0 L895.3,944.5 L896.5,943.4 L896.5,945.9 L895.0,948.8 L895.7,949.5 L897.7,945.9 L900.0,944.0 L898.9,947.2 L897.2,951.3 L897.2,951.3 L901.9,942.6 L905.0,937.2 L902.8,943.6 L898.3,952.6 L899.1,953.4 L904.4,943.8 L908.8,937.9 L905.5,945.0 L900.4,955.0 L901.5,956.2 L911.2,940.4 L918.6,930.4 L912.6,941.9 L903.2,958.2 L903.3,958.3 L908.2,948.9 L911.2,943.1 L909.4,950.2 L904.9,960.0 L905.3,960.6 L909.3,952.5 L912.0,947.5 L910.1,953.5 L906.4,961.8 L908.3,964.0 L912.5,955.2 L915.9,949.8 L913.5,956.3 L909.6,965.4 L910.9,967.0 L912.8,963.4 L915.2,961.5 L913.8,964.6 L912.2,968.5 L913.8,970.3 L915.6,967.4 L917.4,965.9 L916.4,968.3 L914.8,971.4 L915.5,972.2 L921.0,964.0 L924.7,958.9 L921.7,964.8 L916.3,973.2 L918.1,975.2 L921.1,970.1 L922.9,967.1 L921.8,971.0 L919.0,976.2 L920.9,978.4 L926.0,966.6 L930.3,959.1 L926.7,967.4 L921.8,979.5 L922.7,980.5 L929.4,970.4 L933.9,964.1 L930.1,971.3 L923.6,981.5 L925.4,983.6 L928.4,979.3 L930.4,976.9 L929.5,980.5 L926.8,985.2 L927.2,985.6 L928.6,983.1 L930.2,981.8 L929.5,984.1 L928.3,986.9 L929.8,988.6 L937.0,976.7 L941.7,969.1 L938.0,977.7 L931.0,989.9 L932.2,991.3 L935.3,985.7 L937.8,982.2 L936.0,986.5 L933.1,992.4 L934.8,994.3 L944.5,978.5 L950.8,968.5 L945.5,979.7 L936.1,995.8 L936.5,996.2 L941.5,987.0 L946.0,981.2 L942.2,987.8 L937.3,997.2 L938.7,998.8 L940.4,995.2 L942.1,993.3 L941.4,996.4 L940.0,1000.3 L941.5,1001.9 L943.7,997.5 L945.2,994.9 L944.5,998.5 L942.5,1003.2 L943.7,1004.5 L945.4,1001.6 L946.6,1000.0 L946.2,1002.5 L944.7,1005.6 L946.4,1007.6 L949.9,1002.3 L952.0,999.3 L951.0,1003.6 L947.8,1009.2 L948.0,1009.4 L950.8,1006.0 L952.5,1004.3 L952.1,1007.4 L949.6,1011.3 L950.2,1012.0 L952.1,1008.0 L953.7,1005.7 L953.1,1009.0 L951.4,1013.3 L952.9,1015.0 L955.1,1010.1 L957.6,1007.4 L956.3,1011.4 L954.4,1016.7 L955.7,1018.1 L957.7,1014.7 L959.1,1012.9 L958.8,1016.0 L957.1,1019.7 L958.0,1020.8 L963.6,1009.7 L968.1,1002.6 L964.3,1010.5 L959.0,1021.9 L960.0,1023.0 L961.4,1019.6 L963.2,1017.9 L962.6,1020.9 L961.5,1024.6 L962.0,1025.2 L963.7,1023.5 L964.5,1022.8 L964.7,1024.6 L963.3,1026.7 L964.6,1028.2 L965.7,1027.0 L965.9,1026.5 L966.4,1027.8 L965.5,1029.2 L967.3,1031.2 L967.9,1029.9 L969.3,1029.6 L969.0,1031.2 L968.8,1032.9 L969.1,1033.2 L970.7,1031.2 L971.9,1030.3 L971.7,1032.3 L970.3,1034.6 L971.4,1035.8 L972.1,1034.6 L973.2,1034.3 L973.2,1035.9 L972.8,1037.4 L974.0,1038.8 L975.6,1035.9 L977.4,1034.6 L976.9,1037.4 L975.7,1040.6 L975.8,1040.8 L978.1,1036.8 L979.5,1034.6 L979.2,1038.1 L977.3,1042.5 L978.4,1043.7 L979.1,1041.9 L980.7,1041.3 L980.2,1043.2 L979.8,1045.3 L980.5,1046.1 L982.1,1042.9 L983.8,1041.3 L983.3,1044.2 L982.1,1047.8 L982.7,1048.5 L984.3,1045.2 L986.4,1043.4 L985.4,1046.4 L984.1,1050.1 L985.2,1051.4 L986.3,1048.9 L988.2,1047.8 L987.5,1050.3 L986.8,1053.1 L987.5,1054.0 L989.4,1048.9 L991.7,1045.9 L990.2,1049.8 L988.5,1055.1 L989.9,1056.6 L991.6,1054.0 L992.6,1052.7 L992.7,1055.2 L991.2,1058.2 L992.2,1059.2 L992.9,1057.8 L993.9,1057.2 L993.8,1058.8 L993.4,1060.6 L994.9,1062.2 L996.0,1059.1 L997.4,1057.3 L996.7,1059.9 L995.9,1063.3 L997.0,1064.6 L998.1,1062.3 L999.3,1061.2 L998.8,1063.1 L997.9,1065.6 L998.9,1066.7 L1000.9,1061.7 L1003.0,1058.7 L1001.7,1062.6 L999.9,1067.9 L1001.6,1069.8 L1002.7,1068.6 L1003.4,1068.3 L1003.7,1069.7 L1002.8,1071.2 L1004.1,1072.6 L1004.8,1071.1 L1006.0,1070.6 L1005.8,1072.2 L1005.3,1074.0 L1006.5,1075.4 L1007.8,1072.9 L1009.1,1071.8 L1009.0,1074.2 L1008.0,1077.0 L1008.0,1077.0 L1010.0,1079.0 L1024.5,1071.7 L1040.0,1058.0 L1054.5,1046.0 L1069.0,1033.0 L1083.0,1020.0 L1098.0,1006.0 L1112.0,990.0 L1126.7,972.7 L1141.0,955.0 L1155.6,936.6 L1170.0,919.0 L1184.5,902.0 L1199.0,882.0 L1211.0,865.0 L1221.0,842.0 L1236.0,819.0 L1250.0,794.0 L1264.0,772.0 L1279.0,748.0 L1293.0,713.0 L1306.0,692.0 L1318.0,640.0 L1330.0,560.0 L1340,60 L820,60 L830.0,84.0 L782.0,82.0 L741.0,87.0 L716.0,96.0 L658.0,122.0 L600.0,153.0 L542.0,184.0 L484.0,216.0 L441.0,249.0 L394.0,281.0 L364.0,305.0Z"/></clipPath>
<linearGradient id="cbg" x1="0" y1="1" x2="0" y2="0"><stop offset="0.000" stop-color="rgb(0,0,0)"/><stop offset="0.025" stop-color="rgb(0,0,8)"/><stop offset="0.050" stop-color="rgb(0,0,16)"/><stop offset="0.075" stop-color="rgb(0,0,25)"/><stop offset="0.100" stop-color="rgb(0,0,33)"/><stop offset="0.125" stop-color="rgb(0,0,41)"/><stop offset="0.150" stop-color="rgb(0,0,49)"/><stop offset="0.175" stop-color="rgb(0,0,57)"/><stop offset="0.200" stop-color="rgb(0,0,66)"/><stop offset="0.225" stop-color="rgb(0,0,74)"/><stop offset="0.250" stop-color="rgb(0,0,82)"/><stop offset="0.275" stop-color="rgb(0,0,90)"/><stop offset="0.300" stop-color="rgb(0,0,98)"/><stop offset="0.325" stop-color="rgb(0,0,107)"/><stop offset="0.350" stop-color="rgb(0,0,115)"/><stop offset="0.375" stop-color="rgb(0,0,123)"/><stop offset="0.400" stop-color="rgb(0,5,132)"/><stop offset="0.425" stop-color="rgb(2,16,141)"/><stop offset="0.450" stop-color="rgb(3,28,150)"/><stop offset="0.475" stop-color="rgb(4,39,160)"/><stop offset="0.500" stop-color="rgb(5,50,169)"/><stop offset="0.525" stop-color="rgb(6,62,178)"/><stop offset="0.550" stop-color="rgb(8,73,188)"/><stop offset="0.575" stop-color="rgb(9,85,197)"/><stop offset="0.600" stop-color="rgb(10,96,206)"/><stop offset="0.625" stop-color="rgb(11,108,216)"/><stop offset="0.650" stop-color="rgb(12,119,225)"/><stop offset="0.675" stop-color="rgb(13,131,234)"/><stop offset="0.700" stop-color="rgb(15,142,244)"/><stop offset="0.725" stop-color="rgb(16,154,253)"/><stop offset="0.750" stop-color="rgb(34,163,255)"/><stop offset="0.775" stop-color="rgb(56,172,255)"/><stop offset="0.800" stop-color="rgb(78,182,255)"/><stop offset="0.825" stop-color="rgb(100,191,255)"/><stop offset="0.850" stop-color="rgb(122,200,255)"/><stop offset="0.875" stop-color="rgb(144,209,255)"/><stop offset="0.900" stop-color="rgb(166,218,255)"/><stop offset="0.925" stop-color="rgb(189,228,255)"/><stop offset="0.950" stop-color="rgb(211,237,255)"/><stop offset="0.975" stop-color="rgb(233,246,255)"/><stop offset="1.000" stop-color="rgb(255,255,255)"/></linearGradient>
<filter id="mb" filterUnits="userSpaceOnUse" x="0" y="0" width="1481" height="1384"><feGaussianBlur stdDeviation="14"/></filter>
<mask id="mIso" maskUnits="userSpaceOnUse" x="0" y="0" width="1481" height="1384"><g filter="url(#mb)"><path d="M470,60 L1400,40 L1400,760 L1210,900 L1095,880 L1005,790 L985,690 L960,560 L900,440 L840,375 L760,335 L660,335 L570,320 L500,250 Z" fill="#fff"/></g></mask>
<mask id="mS2" maskUnits="userSpaceOnUse" x="0" y="0" width="1481" height="1384"><g filter="url(#mb)"><path d="M640,700 L800,650 L930,700 L1000,790 L1090,880 L1200,890 L1130,1020 L1000,1150 L600,800 Z" fill="#fff"/></g></mask>
<g id="imap"><rect x="300" y="60" width="1060" height="1060" fill="#191919"/>
<g filter="url(#b40)">
<path d="M300,330 L760,20 L960,20 L935,160 L860,300 L800,370 L700,385 L640,400 L560,450 L480,470 L400,420 Z" fill="#000" opacity="0.38"/>
<path d="M1000,640 L1100,600 L1230,600 L1330,650 L1200,900 L1080,1000 L980,900 L960,760 Z" fill="#000" opacity="0.12"/>
<path d="M760,820 L900,800 L1040,860 L1120,960 L1020,1120 L880,1000 Z" fill="#000" opacity="0.13"/>
</g>
<g filter="url(#b14)"><path d="M360,300 L420,300 L520,430 L540,480 L470,440 Z" fill="#fff" opacity="0.0200"/></g>
<g filter="url(#b20)"><path d="M905,745 L965,690 L1075,700 L1100,820 L1040,900 L945,865 Z" fill="#000" opacity="0.3"/></g>
<g filter="url(#b20)"><path d="M905,960 L960,930 L1060,1000 L1080,1050 L1010,1100 L950,1040 Z" fill="#000" opacity="0.3"/></g>
<g filter="url(#b14)"><path d="M330.0,330.0C340.7,320.2 375.5,286.2 394.0,271.0C412.5,255.8 426.0,249.8 441.0,239.0C456.0,228.2 467.2,216.8 484.0,206.0C500.8,195.2 522.7,184.5 542.0,174.0C561.3,163.5 580.7,153.3 600.0,143.0C619.3,132.7 638.7,121.5 658.0,112.0C677.3,102.5 695.3,92.7 716.0,86.0C736.7,79.3 758.0,73.3 782.0,72.0C806.0,70.7 847.0,77.0 860.0,78.0" fill="none" stroke="#000" stroke-width="60" opacity="0.75"/></g>
<g filter="url(#b14)"><path d="M1120,580 L1200,590 L1215,650 L1180,700 L1110,690 L1085,630 Z" fill="#000" opacity="0.14"/></g>
<g filter="url(#b14)"><path d="M1320.0,600.0C1317.7,615.3 1312.8,667.3 1306.0,692.0C1299.2,716.7 1288.3,731.0 1279.0,748.0C1269.7,765.0 1259.7,778.3 1250.0,794.0C1240.3,809.7 1229.5,827.3 1221.0,842.0C1212.5,856.7 1207.5,869.2 1199.0,882.0C1190.5,894.8 1179.7,906.8 1170.0,919.0C1160.3,931.2 1150.7,943.2 1141.0,955.0C1131.3,966.8 1121.7,979.2 1112.0,990.0C1102.3,1000.8 1092.7,1010.7 1083.0,1020.0C1073.3,1029.3 1066.0,1036.2 1054.0,1046.0C1042.0,1055.8 1018.2,1073.5 1011.0,1079.0" fill="none" stroke="#fff" stroke-width="40" opacity="0.0311"/></g>
<g filter="url(#b14)"><path d="M779.9,99.6C793.5,102.5 834.8,109.3 861.5,117.0C888.2,124.7 914.5,134.2 939.9,145.5C965.2,156.8 990.1,170.0 1013.6,184.7C1037.1,199.4 1059.8,215.9 1081.1,233.7C1102.3,251.5 1122.5,271.1 1141.1,291.7C1159.7,312.3 1177.0,334.4 1192.5,357.4C1208.0,380.4 1222.0,404.8 1234.2,429.7C1246.4,454.6 1256.8,480.6 1265.4,507.0C1274.0,533.4 1280.8,560.7 1285.6,588.0C1290.4,615.3 1293.3,643.2 1294.3,670.9C1295.3,698.6 1291.9,740.4 1291.4,754.3" fill="none" stroke="#fff" stroke-width="44" opacity="0.0258"/></g>
<g filter="url(#b40)">
<ellipse cx="745" cy="560" rx="195" ry="200" fill="#fff" opacity="0.0333"/>
</g>
<g filter="url(#b20)">
<path d="M560.0,500.0C555.0,467.5 588.3,442.0 610.0,425.0C631.7,408.0 665.0,403.0 690.0,398.0C715.0,393.0 736.7,392.2 760.0,395.0C783.3,397.8 808.3,402.5 830.0,415.0C851.7,427.5 873.3,447.5 890.0,470.0C906.7,492.5 921.7,523.3 930.0,550.0C938.3,576.7 944.2,605.0 940.0,630.0C935.8,655.0 920.0,680.0 905.0,700.0C890.0,720.0 869.2,734.2 850.0,750.0C830.8,765.8 808.3,796.7 790.0,795.0C771.7,793.3 755.0,757.5 740.0,740.0C725.0,722.5 716.7,710.0 700.0,690.0C683.3,670.0 663.3,651.7 640.0,620.0C616.7,588.3 565.0,532.5 560.0,500.0Z" fill="#fff" opacity="0.0111"/>
</g>
<g filter="url(#b14)"><ellipse cx="850" cy="640" rx="50" ry="65" fill="#000" opacity="0.22"/></g>
<g filter="url(#b8)">
<path d="M1078.0,575.0C1073.3,578.8 1060.5,590.2 1050.0,598.0C1039.5,605.8 1025.0,613.3 1015.0,622.0C1005.0,630.7 997.2,638.7 990.0,650.0C982.8,661.3 977.8,676.7 972.0,690.0C966.2,703.3 957.8,723.3 955.0,730.0" fill="none" stroke="#fff" stroke-width="30" opacity="0.0622"/>
<path d="M1060.0,505.0C1061.7,508.3 1066.3,518.3 1070.0,525.0C1073.7,531.7 1080.0,541.7 1082.0,545.0" fill="none" stroke="#fff" stroke-width="14" opacity="0.0489"/>
</g>
<g filter="url(#b8)"><ellipse cx="1083" cy="548" rx="12" ry="25" fill="#fff" opacity="0.1467" transform="rotate(18 1083 548)"/></g>
<g filter="url(#b4)">
<path d="M1063.0,508.0C1064.5,511.0 1068.8,520.3 1072.0,526.0C1075.2,531.7 1079.3,537.0 1082.0,542.0C1084.7,547.0 1087.3,551.7 1088.0,556.0C1088.7,560.3 1087.5,564.3 1086.0,568.0C1084.5,571.7 1080.2,576.3 1079.0,578.0" fill="none" stroke="#fff" stroke-width="12" opacity="0.1867"/>
<ellipse cx="1087" cy="555" rx="7" ry="14" fill="#fff" opacity="0.9" transform="rotate(14 1087 555)"/>
</g>
<g filter="url(#b8)">
<path d="M546.0,473.0C550.8,467.8 564.8,451.3 575.0,442.0C585.2,432.7 595.3,424.0 607.0,417.0C618.7,410.0 631.3,404.3 645.0,400.0C658.7,395.7 672.3,392.9 689.0,391.0C705.7,389.1 726.2,387.2 745.0,388.5C763.8,389.8 784.7,392.1 802.0,399.0C819.3,405.9 836.0,419.8 849.0,430.0C862.0,440.2 869.8,447.8 880.0,460.0C890.2,472.2 905.0,495.8 910.0,503.0" fill="none" stroke="#fff" stroke-width="42" opacity="0.1333"/>
<path d="M880.0,460.0C885.0,467.2 900.7,487.2 910.0,503.0C919.3,518.8 929.8,539.7 936.0,555.0C942.2,570.3 945.2,582.8 947.0,595.0C948.8,607.2 949.8,616.8 947.0,628.0C944.2,639.2 937.3,650.0 930.0,662.0C922.7,674.0 913.5,687.8 903.0,700.0C892.5,712.2 880.3,723.3 867.0,735.0C853.7,746.7 835.8,760.0 823.0,770.0C810.2,780.0 795.5,790.8 790.0,795.0" fill="none" stroke="#fff" stroke-width="34" opacity="0.1867"/>
<path d="M580.0,470.0C586.7,465.0 603.3,448.7 620.0,440.0C636.7,431.3 659.2,422.3 680.0,418.0C700.8,413.7 725.0,413.0 745.0,414.0C765.0,415.0 782.5,417.2 800.0,424.0C817.5,430.8 835.8,442.3 850.0,455.0C864.2,467.7 879.2,492.5 885.0,500.0" fill="none" stroke="#fff" stroke-width="16" opacity="0.0667"/>
<path d="M912.0,590.0C910.8,598.3 911.7,622.0 905.0,640.0C898.3,658.0 885.3,681.8 872.0,698.0C858.7,714.2 841.2,724.2 825.0,737.0C808.8,749.8 783.3,768.7 775.0,775.0" fill="none" stroke="#fff" stroke-width="16" opacity="0.1333"/>
<path d="M975.0,615.0C974.7,620.8 976.3,636.7 973.0,650.0C969.7,663.3 963.0,680.8 955.0,695.0C947.0,709.2 930.0,728.3 925.0,735.0" fill="none" stroke="#fff" stroke-width="11" opacity="0.1467"/>
</g>
<g filter="url(#b4)">
<path d="M546.0,473.0C550.8,467.8 564.8,451.3 575.0,442.0C585.2,432.7 595.3,424.0 607.0,417.0C618.7,410.0 631.3,404.3 645.0,400.0C658.7,395.7 672.3,392.9 689.0,391.0C705.7,389.1 726.2,387.2 745.0,388.5C763.8,389.8 792.5,397.2 802.0,399.0" fill="none" stroke="#fff" stroke-width="13" opacity="0.1022"/>
<ellipse cx="689" cy="392" rx="22" ry="8" fill="#fff" opacity="0.3" transform="rotate(-10 689 392)"/>
<ellipse cx="748" cy="390" rx="20" ry="7" fill="#fff" opacity="0.25"/>
<ellipse cx="625" cy="412" rx="22" ry="7" fill="#fff" opacity="0.2" transform="rotate(-28 625 412)"/>
<path d="M910.0,503.0C914.3,511.7 929.8,539.7 936.0,555.0C942.2,570.3 945.2,582.8 947.0,595.0C948.8,607.2 949.8,616.8 947.0,628.0C944.2,639.2 937.3,650.0 930.0,662.0C922.7,674.0 913.5,687.8 903.0,700.0C892.5,712.2 880.3,723.3 867.0,735.0C853.7,746.7 835.8,760.0 823.0,770.0C810.2,780.0 795.5,790.8 790.0,795.0" fill="none" stroke="#fff" stroke-width="17" opacity="0.5"/>
<path d="M936.0,555.0C937.8,561.7 945.2,582.8 947.0,595.0C948.8,607.2 949.8,616.8 947.0,628.0C944.2,639.2 937.3,650.0 930.0,662.0C922.7,674.0 913.5,687.8 903.0,700.0C892.5,712.2 880.3,723.3 867.0,735.0C853.7,746.7 835.8,760.0 823.0,770.0C810.2,780.0 795.5,790.8 790.0,795.0" fill="none" stroke="#fff" stroke-width="10.5" opacity="0.75"/>
</g>
<g filter="url(#b20)"><path d="M560.0,500.0C561.7,468.3 616.7,460.8 650.0,450.0C683.3,439.2 728.3,432.5 760.0,435.0C791.7,437.5 823.3,452.5 840.0,465.0C856.7,477.5 860.0,495.8 860.0,510.0C860.0,524.2 851.7,537.0 840.0,550.0C828.3,563.0 806.3,578.0 790.0,588.0C773.7,598.0 755.7,601.0 742.0,610.0C728.3,619.0 718.0,631.7 708.0,642.0C698.0,652.3 693.3,672.3 682.0,672.0C670.7,671.7 660.3,668.7 640.0,640.0C619.7,611.3 558.3,531.7 560.0,500.0Z" fill="#fff" opacity="0.1689"/></g>
<g filter="url(#b8)"><ellipse cx="803" cy="783" rx="30" ry="13" fill="#fff" opacity="0.2667" transform="rotate(-40 803 783)"/></g>
<g filter="url(#b14)"><path d="M532.0,513.0C529.2,494.3 551.7,495.2 563.0,488.0C574.3,480.8 585.5,476.0 600.0,470.0C614.5,464.0 633.3,456.7 650.0,452.0C666.7,447.3 682.0,444.2 700.0,442.0C718.0,439.8 741.0,438.2 758.0,439.0C775.0,439.8 789.7,442.2 802.0,447.0C814.3,451.8 825.0,460.0 832.0,468.0C839.0,476.0 843.7,485.5 844.0,495.0C844.3,504.5 841.3,514.8 834.0,525.0C826.7,535.2 814.3,547.8 800.0,556.0C785.7,564.2 763.3,567.0 748.0,574.0C732.7,581.0 719.3,588.3 708.0,598.0C696.7,607.7 689.0,621.0 680.0,632.0C671.0,643.0 664.7,661.7 654.0,664.0C643.3,666.3 628.3,656.7 616.0,646.0C603.7,635.3 594.0,622.2 580.0,600.0C566.0,577.8 534.8,531.7 532.0,513.0Z" fill="#fff" opacity="0.4"/></g>
<g filter="url(#b8)"><path d="M541.0,513.0C539.0,496.0 559.3,498.2 570.0,492.0C580.7,485.8 591.7,481.3 605.0,476.0C618.3,470.7 634.2,464.3 650.0,460.0C665.8,455.7 682.0,452.2 700.0,450.0C718.0,447.8 741.3,446.3 758.0,447.0C774.7,447.7 788.8,449.8 800.0,454.0C811.2,458.2 819.3,465.0 825.0,472.0C830.7,479.0 834.2,488.0 834.0,496.0C833.8,504.0 831.0,511.7 824.0,520.0C817.0,528.3 805.7,539.0 792.0,546.0C778.3,553.0 757.0,555.0 742.0,562.0C727.0,569.0 713.5,578.2 702.0,588.0C690.5,597.8 682.0,610.0 673.0,621.0C664.0,632.0 657.2,650.8 648.0,654.0C638.8,657.2 629.0,650.0 618.0,640.0C607.0,630.0 594.8,615.2 582.0,594.0C569.2,572.8 543.0,530.0 541.0,513.0Z" fill="#fff" opacity="0.95"/></g></g>
</defs>
<rect x="0" y="0" width="1481" height="1384" fill="#fff"/>
<rect x="80" y="75" width="1234" height="1234" fill="#000"/>
<g clip-path="url(#cBox)"><g clip-path="url(#cCirc)"><g clip-path="url(#cData)">
<g filter="url(#nS1)"><use href="#imap"/></g>
<g mask="url(#mS2)"><g filter="url(#nS2)"><use href="#imap"/></g></g>
<g mask="url(#mIso)"><g filter="url(#tIso)"><use href="#imap"/><g opacity="0.2347"><g shape-rendering="crispEdges"><rect x="340" y="60" width="1020" height="960" fill="#808080"/><rect x="340" y="60" width="1020" height="960" fill="url(#nz0)" opacity="0.4348"/><rect x="340" y="60" width="1020" height="960" fill="url(#nz1)" opacity="0.3429"/><rect x="340" y="60" width="1020" height="960" fill="url(#nz2)" opacity="0.2857"/><rect x="340" y="60" width="1020" height="960" fill="url(#nz3)" opacity="0.2403"/><rect x="340" y="60" width="1020" height="960" fill="url(#nz4)" opacity="0.2086"/><rect x="340" y="60" width="1020" height="960" fill="url(#nz5)" opacity="0.1850"/></g><g filter="url(#b40)"><path d="M300,330 L760,20 L960,20 L935,160 L860,300 L800,370 L700,385 L640,400 L560,450 L480,470 L400,420 Z" fill="#808080" opacity="0.42"/></g></g></g></g>
</g></g></g>
<g clip-path="url(#cBox)" fill="none" stroke="#fff" stroke-width="3.3" stroke-dasharray="3.3 7.7"><circle cx="696.7" cy="691.8" r="23.0"/>
<circle cx="696.7" cy="691.8" r="134.5"/>
<circle cx="696.7" cy="691.8" r="266.5"/>
<circle cx="696.7" cy="691.8" r="393.5"/>
<circle cx="696.7" cy="691.8" r="511.7"/>
<circle cx="696.7" cy="691.8" r="615.6"/>
<path d="M696.7,668.8 L696.7,76.2"/>
<path d="M702.7,669.6 L856.0,97.2"/>
<path d="M708.2,671.9 L1004.5,158.7"/>
<path d="M713.0,675.5 L1132.0,256.5"/>
<path d="M716.6,680.3 L1229.8,384.0"/>
<path d="M718.9,685.8 L1291.3,532.5"/>
<path d="M719.7,691.8 L1312.3,691.8"/>
<path d="M718.9,697.8 L1291.3,851.1"/>
<path d="M716.6,703.3 L1229.8,999.6"/>
<path d="M713.0,708.1 L1132.0,1127.1"/>
<path d="M708.2,711.7 L1004.5,1224.9"/>
<path d="M702.7,714.0 L856.0,1286.4"/>
<path d="M690.7,714.0 L537.4,1286.4"/>
<path d="M685.2,711.7 L388.9,1224.9"/>
<path d="M680.4,708.1 L261.4,1127.1"/>
<path d="M676.8,703.3 L163.6,999.6"/>
<path d="M674.5,697.8 L102.1,851.1"/>
<path d="M673.7,691.8 L81.1,691.8"/>
<path d="M674.5,685.8 L102.1,532.5"/>
<path d="M676.8,680.3 L163.6,384.0"/>
<path d="M680.4,675.5 L261.4,256.5"/>
<path d="M685.2,671.9 L388.9,158.7"/>
<path d="M690.7,669.6 L537.4,97.2"/></g>
<path d="M696.7,692.8 V1309" stroke="#d8400e" stroke-width="4.4" fill="none"/>
<circle cx="696.7" cy="691.8" r="12.6" fill="none" stroke="#fff" stroke-width="3"/>
<circle cx="696.7" cy="691.2" r="2.3" fill="#fff"/>
<g>
<path d="M1181.3,533.4 L1139.4,546.8" stroke="#fff" stroke-width="4.3"/><path d="M1115.7,554.1 L1134.5,533.4 L1143.6,560.8 Z" fill="#fff"/>
<path d="M1109,535.2 L1076.8,546.8" stroke="#d4d4d4" stroke-width="2.2"/><path d="M1053.1,556.5 L1071.9,534.6 L1081.7,560.8 Z" fill="#d4d4d4"/>
<path d="M1043.5,692 L1015,692" stroke="#c4c4c4" stroke-width="2.2"/><path d="M992.9,692 L1018.9,677.5 L1018.9,706.5 Z" fill="#c4c4c4"/>
<path d="M533.6,443.8 L540.5,454.6" stroke="#969696" stroke-width="1.6"/><path d="M528.6,462.2 L551.4,447 L554.6,475.9 Z" fill="#969696"/>
</g>
<g opacity="0.999">
<text x="675.3" y="56.2" font-size="50.5">0</text><text x="702.6" y="34.4" font-size="23">o</text>
<path transform="translate(653.00 1325.70) scale(37.000)" d="M0.363,0 L0.237,0 C0.19,0.09 0.11,0.155 0,0.196 L0,0.312 C0.08,0.29 0.15,0.25 0.2,0.21 L0.2,1 L0.363,1 Z" fill="#000"/>
<text x="673.9" y="1362.9" font-size="51.6">80</text><text x="731" y="1339.8" font-size="23">o</text>
<g transform="translate(58.1,737.3) rotate(-90)"><text x="0" y="0" font-size="51.6">270</text><text x="82.2" y="-23.2" font-size="23">o</text></g>
<g transform="translate(1331,655.2) rotate(90)"><text x="0" y="0" font-size="51.6">90</text><text x="55" y="-22.6" font-size="23">o</text></g>
<text x="1316.5" y="985.1" font-size="37.5">kR H</text><text x="1400.2" y="990" font-size="16">2</text>
<rect x="1339.5" y="1000.2" width="47.4" height="307.8" fill="url(#cbg)"/>
<path d="M1339.5,1308.5 V1000.2 H1386.9 V1308.5" fill="none" stroke="#000" stroke-width="2"/>
<path d="M1339.5,1307.7 h5.0 M1386.9,1307.7 h-5.0 M1339.5,1278.6 h2.4 M1386.9,1278.6 h-2.4 M1339.5,1261.5 h2.4 M1386.9,1261.5 h-2.4 M1339.5,1249.4 h2.4 M1386.9,1249.4 h-2.4 M1339.5,1240.0 h2.4 M1386.9,1240.0 h-2.4 M1339.5,1232.4 h2.4 M1386.9,1232.4 h-2.4 M1339.5,1225.9 h2.4 M1386.9,1225.9 h-2.4 M1339.5,1220.3 h2.4 M1386.9,1220.3 h-2.4 M1339.5,1215.3 h2.4 M1386.9,1215.3 h-2.4 M1339.5,1210.9 h5.0 M1386.9,1210.9 h-5.0 M1339.5,1181.8 h2.4 M1386.9,1181.8 h-2.4 M1339.5,1164.7 h2.4 M1386.9,1164.7 h-2.4 M1339.5,1152.6 h2.4 M1386.9,1152.6 h-2.4 M1339.5,1143.2 h2.4 M1386.9,1143.2 h-2.4 M1339.5,1135.6 h2.4 M1386.9,1135.6 h-2.4 M1339.5,1129.1 h2.4 M1386.9,1129.1 h-2.4 M1339.5,1123.5 h2.4 M1386.9,1123.5 h-2.4 M1339.5,1118.5 h2.4 M1386.9,1118.5 h-2.4 M1339.5,1114.1 h5.0 M1386.9,1114.1 h-5.0 M1339.5,1085.0 h2.4 M1386.9,1085.0 h-2.4 M1339.5,1067.9 h2.4 M1386.9,1067.9 h-2.4 M1339.5,1055.8 h2.4 M1386.9,1055.8 h-2.4 M1339.5,1046.4 h2.4 M1386.9,1046.4 h-2.4 M1339.5,1038.8 h2.4 M1386.9,1038.8 h-2.4 M1339.5,1032.3 h2.4 M1386.9,1032.3 h-2.4 M1339.5,1026.7 h2.4 M1386.9,1026.7 h-2.4 M1339.5,1021.7 h2.4 M1386.9,1021.7 h-2.4 M1339.5,1017.3 h5.0 M1386.9,1017.3 h-5.0 M1339.5,1000.2 v4.0 M1341.9,1000.2 v2.0 M1344.2,1000.2 v2.0 M1346.6,1000.2 v2.0 M1349.0,1000.2 v2.0 M1351.3,1000.2 v4.0 M1353.7,1000.2 v2.0 M1356.1,1000.2 v2.0 M1358.5,1000.2 v2.0 M1360.8,1000.2 v2.0 M1363.2,1000.2 v4.0 M1365.6,1000.2 v2.0 M1367.9,1000.2 v2.0 M1370.3,1000.2 v2.0 M1372.7,1000.2 v2.0 M1375.1,1000.2 v4.0 M1377.4,1000.2 v2.0 M1379.8,1000.2 v2.0 M1382.2,1000.2 v2.0 M1384.5,1000.2 v2.0 M1386.9,1000.2 v4.0" stroke="#000" stroke-width="1.3" fill="none"/>
<path transform="translate(1397.80 1005.20) scale(21.600)" d="M0.363,0 L0.237,0 C0.19,0.09 0.11,0.155 0,0.196 L0,0.312 C0.08,0.29 0.15,0.25 0.2,0.21 L0.2,1 L0.363,1 Z" fill="#000"/><text x="1411.3" y="1026.9" font-size="29.7">000</text>
<path transform="translate(1397.80 1102.40) scale(21.600)" d="M0.363,0 L0.237,0 C0.19,0.09 0.11,0.155 0,0.196 L0,0.312 C0.08,0.29 0.15,0.25 0.2,0.21 L0.2,1 L0.363,1 Z" fill="#000"/><text x="1411.3" y="1124.1" font-size="29.7">00</text>
<path transform="translate(1397.80 1199.40) scale(21.600)" d="M0.363,0 L0.237,0 C0.19,0.09 0.11,0.155 0,0.196 L0,0.312 C0.08,0.29 0.15,0.25 0.2,0.21 L0.2,1 L0.363,1 Z" fill="#000"/><text x="1411.3" y="1221.1" font-size="29.7">0</text>
<path transform="translate(1397.80 1286.40) scale(21.600)" d="M0.363,0 L0.237,0 C0.19,0.09 0.11,0.155 0,0.196 L0,0.312 C0.08,0.29 0.15,0.25 0.2,0.21 L0.2,1 L0.363,1 Z" fill="#000"/>
</g>
</svg></body></html>
